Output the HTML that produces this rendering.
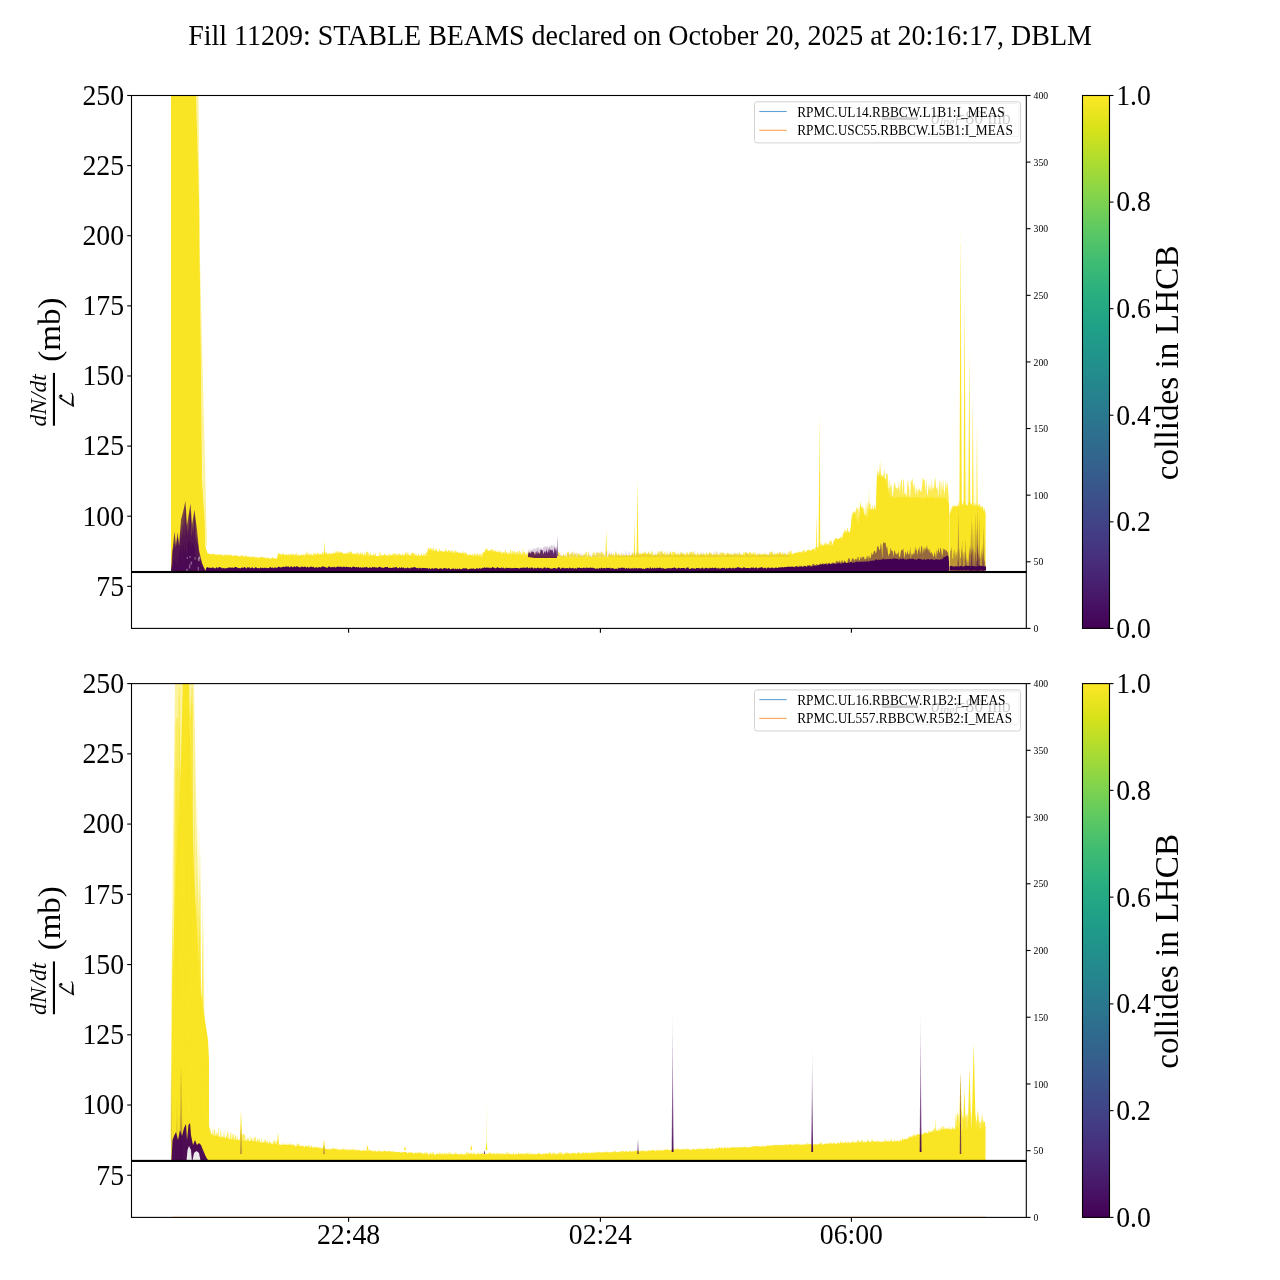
<!DOCTYPE html><html><head><meta charset="utf-8"><title>Fill 11209</title><style>html,body{margin:0;padding:0;background:#fff;width:1280px;height:1280px;overflow:hidden}svg{display:block;will-change:transform}text{font-family:"Liberation Serif",serif;fill:#000}</style></head><body><svg width="1280" height="1280" viewBox="0 0 1280 1280"><defs><linearGradient id="vir" x1="0" y1="1" x2="0" y2="0"><stop offset="0.0000" stop-color="#440154"/><stop offset="0.0625" stop-color="#48186a"/><stop offset="0.1250" stop-color="#472d7b"/><stop offset="0.1875" stop-color="#424086"/><stop offset="0.2500" stop-color="#3b528b"/><stop offset="0.3125" stop-color="#33638d"/><stop offset="0.3750" stop-color="#2c728e"/><stop offset="0.4375" stop-color="#26828e"/><stop offset="0.5000" stop-color="#21918c"/><stop offset="0.5625" stop-color="#1fa088"/><stop offset="0.6250" stop-color="#28ae80"/><stop offset="0.6875" stop-color="#3fbc73"/><stop offset="0.7500" stop-color="#5ec962"/><stop offset="0.8125" stop-color="#84d44b"/><stop offset="0.8750" stop-color="#addc30"/><stop offset="0.9375" stop-color="#d8e219"/><stop offset="1.0000" stop-color="#fde725"/></linearGradient><linearGradient id="pgrad" x1="0" y1="0" x2="0" y2="1"><stop offset="0" stop-color="#440154" stop-opacity="0.05"/><stop offset="0.5" stop-color="#440154" stop-opacity="0.45"/><stop offset="1" stop-color="#440154" stop-opacity="0.95"/></linearGradient></defs><text transform="translate(640.00,45.00) scale(1.000,1.040)" font-size="28.00" text-anchor="middle">Fill 11209: STABLE BEAMS declared on October 20, 2025 at 20:16:17, DBLM</text><polygon points="206.0,571.0 206.0,554.4 206.7,553.7 207.4,554.2 208.1,553.7 208.8,553.7 209.5,555.3 210.2,555.5 210.9,553.3 211.6,554.9 212.3,555.0 213.0,553.0 213.7,554.5 214.4,553.6 215.1,554.6 215.8,554.2 216.5,555.5 217.2,554.3 217.9,553.7 218.6,554.7 219.3,554.2 220.0,554.4 220.7,556.0 221.4,554.3 222.1,554.8 222.8,555.6 223.5,556.3 224.2,554.2 224.9,555.3 225.6,554.7 226.3,554.3 227.0,554.8 227.7,554.3 228.4,555.7 229.1,554.7 229.8,555.7 230.5,554.5 231.2,554.7 231.9,556.7 232.6,556.7 233.3,556.5 234.0,554.6 234.7,556.0 235.4,555.6 236.1,556.5 236.8,556.0 237.5,556.4 238.2,556.5 238.9,556.0 239.6,556.0 240.3,555.3 241.0,555.9 241.7,555.3 242.4,555.5 243.1,555.2 243.8,556.1 244.5,557.4 245.2,555.7 245.9,555.5 246.6,555.7 247.3,556.6 248.0,556.2 248.7,557.5 249.4,556.0 250.1,556.7 250.8,557.5 251.5,558.1 252.2,556.2 252.9,555.9 253.6,558.1 254.3,556.5 255.0,557.4 255.7,558.1 256.4,557.8 257.1,556.7 257.8,556.5 258.5,558.5 259.2,557.2 259.9,558.6 260.6,557.1 261.3,558.0 262.0,556.8 262.7,556.6 263.4,557.8 264.1,556.6 264.8,558.4 265.5,559.0 266.2,557.7 266.9,559.2 267.6,558.8 268.3,558.4 269.0,557.9 269.7,559.1 270.4,559.4 271.1,557.4 271.8,558.8 272.5,557.3 273.2,557.5 273.9,558.8 274.6,558.7 275.3,558.6 276.0,558.3 276.7,558.5 277.4,556.7 278.1,553.7 278.8,552.7 279.5,554.1 280.2,554.3 280.9,553.4 281.6,555.0 282.3,554.8 283.0,552.5 283.7,554.1 284.4,554.0 285.1,556.0 285.8,554.5 286.5,553.9 287.2,556.1 287.9,553.8 288.6,553.7 289.3,556.1 290.0,553.8 290.7,554.4 291.4,553.5 292.1,555.0 292.8,553.4 293.5,553.3 294.2,556.5 294.9,556.4 295.6,553.6 296.3,552.2 297.0,555.6 297.7,554.6 298.4,554.0 299.1,555.4 299.8,555.2 300.5,555.4 301.2,555.1 301.9,553.9 302.6,555.4 303.3,554.9 304.0,553.0 304.7,556.6 305.4,553.9 306.1,553.1 306.8,555.1 307.5,555.5 308.2,552.7 308.9,555.3 309.6,555.5 310.3,554.3 311.0,553.1 311.7,555.8 312.4,554.8 313.1,554.7 313.8,552.4 314.5,554.1 315.2,552.2 315.9,555.3 316.6,554.5 317.3,553.1 318.0,552.0 318.7,553.9 319.4,554.8 320.1,555.2 320.8,553.5 321.5,554.9 322.2,552.2 322.9,552.1 323.6,554.8 324.3,554.3 325.0,552.1 325.7,552.8 326.4,552.1 327.1,553.9 327.8,554.7 328.5,554.1 329.2,552.1 329.9,554.1 330.6,553.8 331.3,553.4 332.0,553.4 332.7,553.4 333.4,551.5 334.1,554.3 334.8,554.8 335.5,551.3 336.2,551.5 336.9,551.1 337.6,553.1 338.3,551.2 339.0,551.3 339.7,553.7 340.4,551.9 341.1,551.6 341.8,552.2 342.5,552.8 343.2,553.7 343.9,553.5 344.6,554.0 345.3,554.6 346.0,552.7 346.7,553.9 347.4,551.8 348.1,554.9 348.8,551.5 349.5,552.4 350.2,551.4 350.9,551.6 351.6,551.6 352.3,553.0 353.0,555.4 353.7,552.3 354.4,554.8 355.1,554.3 355.8,552.7 356.5,553.3 357.2,553.9 357.9,551.5 358.6,553.0 359.3,554.3 360.0,554.8 360.7,551.9 361.4,553.8 362.1,552.3 362.8,554.4 363.5,555.2 364.2,553.6 364.9,552.2 365.6,555.4 366.3,552.3 367.0,551.7 367.7,552.3 368.4,552.2 369.1,556.4 369.8,553.3 370.5,552.1 371.2,556.3 371.9,555.2 372.6,555.2 373.3,553.9 374.0,554.5 374.7,554.2 375.4,552.6 376.1,556.8 376.8,556.5 377.5,556.2 378.2,556.2 378.9,556.6 379.6,551.6 380.3,552.3 381.0,556.5 381.7,554.2 382.4,555.2 383.1,555.2 383.8,555.0 384.5,553.4 385.2,553.8 385.9,555.0 386.6,555.9 387.3,555.1 388.0,556.2 388.7,553.9 389.4,553.1 390.1,554.9 390.8,556.4 391.5,555.9 392.2,554.9 392.9,553.7 393.6,552.7 394.3,554.8 395.0,552.7 395.7,553.6 396.4,554.6 397.1,554.9 397.8,554.2 398.5,553.2 399.2,554.6 399.9,553.2 400.6,554.4 401.3,555.5 402.0,554.0 402.7,553.2 403.4,556.4 404.1,554.6 404.8,554.6 405.5,552.3 406.2,552.1 406.9,554.8 407.6,552.3 408.3,552.8 409.0,555.4 409.7,554.4 410.4,556.0 411.1,552.7 411.8,553.4 412.5,552.4 413.2,552.8 413.9,553.4 414.6,553.1 415.3,553.9 416.0,556.1 416.7,553.8 417.4,556.5 418.1,555.9 418.8,552.9 419.5,556.3 420.2,556.1 420.9,556.1 421.6,552.5 422.3,555.8 423.0,556.6 423.7,552.7 424.4,556.2 425.1,552.7 425.8,553.6 426.5,552.8 427.2,552.2 427.9,549.1 428.6,547.0 429.3,550.6 430.0,547.4 430.7,548.7 431.4,547.8 432.1,550.8 432.8,547.9 433.5,547.1 434.2,551.5 434.9,550.3 435.6,549.2 436.3,548.0 437.0,551.1 437.7,551.6 438.4,551.4 439.1,549.5 439.8,548.9 440.5,550.9 441.2,551.1 441.9,551.0 442.6,551.3 443.3,551.0 444.0,552.8 444.7,550.8 445.4,548.5 446.1,551.3 446.8,549.8 447.5,552.6 448.2,550.2 448.9,550.0 449.6,550.4 450.3,551.2 451.0,551.4 451.7,550.8 452.4,549.8 453.1,553.0 453.8,553.3 454.5,550.6 455.2,550.0 455.9,551.7 456.6,552.1 457.3,551.1 458.0,553.2 458.7,552.9 459.4,553.2 460.1,551.9 460.8,553.0 461.5,553.5 462.2,551.9 462.9,550.9 463.6,553.7 464.3,552.2 465.0,553.5 465.7,551.8 466.4,553.0 467.1,554.6 467.8,555.0 468.5,556.0 469.2,554.1 469.9,554.7 470.6,555.8 471.3,555.1 472.0,555.4 472.7,553.2 473.4,556.4 474.1,552.2 474.8,554.9 475.5,554.3 476.2,555.1 476.9,553.3 477.6,553.4 478.3,554.8 479.0,555.3 479.7,554.1 480.4,553.5 481.1,555.9 481.8,554.3 482.5,553.2 483.2,552.3 483.9,552.1 484.6,551.8 485.3,549.4 486.0,549.5 486.7,548.3 487.4,548.7 488.1,550.7 488.8,551.0 489.5,550.9 490.2,551.3 490.9,549.5 491.6,549.0 492.3,548.9 493.0,551.5 493.7,549.1 494.4,551.5 495.1,551.1 495.8,549.9 496.5,552.9 497.2,553.0 497.9,549.6 498.6,552.3 499.3,552.1 500.0,551.0 500.7,550.6 501.4,554.1 502.1,552.5 502.8,552.0 503.5,551.8 504.2,553.3 504.9,551.4 505.6,549.4 506.3,552.5 507.0,551.8 507.7,554.1 508.4,553.3 509.1,551.2 509.8,554.4 510.5,550.1 511.2,550.0 511.9,554.6 512.6,549.9 513.3,553.2 514.0,551.0 514.7,551.1 515.4,553.8 516.1,551.7 516.8,551.9 517.5,551.0 518.2,554.2 518.9,551.4 519.6,550.2 520.3,552.0 521.0,552.8 521.7,555.4 522.4,553.1 523.1,554.0 523.8,551.8 524.5,552.1 525.2,552.8 525.9,555.2 526.6,552.4 527.3,552.5 528.0,555.3 528.7,550.9 529.4,552.4 530.1,555.8 530.8,550.7 531.5,555.7 532.2,554.6 532.9,552.1 533.6,552.9 534.3,553.2 535.0,552.7 535.7,553.9 536.4,554.9 537.1,555.8 537.8,556.5 538.5,552.3 539.2,552.1 539.9,553.5 540.6,552.3 541.3,554.8 542.0,555.4 542.7,554.7 543.4,551.5 544.1,557.0 544.8,554.0 545.5,555.7 546.2,552.3 546.9,555.1 547.6,555.2 548.3,554.8 549.0,553.9 549.7,552.4 550.4,555.2 551.1,551.9 551.8,556.9 552.5,555.9 553.2,557.1 553.9,557.1 554.6,552.5 555.3,552.9 556.0,556.7 556.7,556.7 557.4,555.1 558.1,552.8 558.8,552.3 559.5,552.8 560.2,553.9 560.9,557.0 561.6,555.2 562.3,556.6 563.0,554.3 563.7,554.0 564.4,556.6 565.1,556.2 565.8,552.5 566.5,557.8 567.2,552.4 567.9,551.8 568.6,551.4 569.3,555.3 570.0,554.1 570.7,553.9 571.4,553.6 572.1,551.2 572.8,553.2 573.5,555.9 574.2,552.0 574.9,554.6 575.6,553.8 576.3,552.9 577.0,558.0 577.7,552.6 578.4,553.4 579.1,554.6 579.8,554.3 580.5,554.8 581.2,556.6 581.9,554.3 582.6,557.7 583.3,554.5 584.0,553.5 584.7,554.9 585.4,554.0 586.1,551.3 586.8,551.8 587.5,557.1 588.2,552.5 588.9,553.6 589.6,557.6 590.3,555.5 591.0,556.4 591.7,557.5 592.4,554.2 593.1,551.5 593.8,555.7 594.5,551.9 595.2,553.1 595.9,557.1 596.6,552.0 597.3,553.8 598.0,551.5 598.7,553.0 599.4,552.8 600.1,555.6 600.8,552.4 601.5,551.5 602.2,552.0 602.9,554.9 603.6,552.7 604.3,554.6 605.0,557.2 605.7,557.7 606.4,557.4 607.1,556.5 607.8,556.8 608.5,554.4 609.2,553.0 609.9,554.0 610.6,554.8 611.3,553.2 612.0,555.5 612.7,554.4 613.4,552.4 614.1,554.7 614.8,556.2 615.5,551.4 616.2,552.5 616.9,554.8 617.6,554.7 618.3,553.7 619.0,553.2 619.7,555.6 620.4,556.9 621.1,555.6 621.8,551.9 622.5,555.9 623.2,553.9 623.9,555.5 624.6,555.3 625.3,555.5 626.0,554.1 626.7,555.5 627.4,556.3 628.1,555.7 628.8,555.3 629.5,553.3 630.2,555.9 630.9,556.0 631.6,553.5 632.3,553.7 633.0,551.9 633.7,555.7 634.4,553.6 635.1,553.6 635.8,555.7 636.5,550.3 637.2,554.5 637.9,555.1 638.6,553.0 639.3,554.6 640.0,552.1 640.7,553.6 641.4,554.8 642.1,555.2 642.8,551.5 643.5,554.0 644.2,551.2 644.9,553.0 645.6,550.5 646.3,553.9 647.0,554.2 647.7,554.1 648.4,551.2 649.1,552.2 649.8,553.7 650.5,555.1 651.2,551.9 651.9,550.4 652.6,552.4 653.3,555.6 654.0,555.5 654.7,555.2 655.4,554.8 656.1,555.5 656.8,555.4 657.5,552.2 658.2,550.8 658.9,554.6 659.6,550.5 660.3,553.2 661.0,551.4 661.7,550.8 662.4,550.7 663.1,555.6 663.8,554.2 664.5,552.5 665.2,550.7 665.9,555.4 666.6,554.3 667.3,551.3 668.0,555.2 668.7,553.8 669.4,554.1 670.1,552.2 670.8,550.9 671.5,555.0 672.2,551.9 672.9,552.0 673.6,551.4 674.3,553.0 675.0,551.0 675.7,554.0 676.4,553.7 677.1,554.7 677.8,551.8 678.5,553.4 679.2,554.6 679.9,555.1 680.6,552.2 681.3,552.8 682.0,552.2 682.7,554.0 683.4,553.4 684.1,555.2 684.8,552.3 685.5,555.9 686.2,553.6 686.9,552.0 687.6,552.5 688.3,555.5 689.0,554.8 689.7,551.6 690.4,552.7 691.1,551.5 691.8,551.5 692.5,553.7 693.2,551.4 693.9,552.3 694.6,554.3 695.3,554.1 696.0,555.6 696.7,554.0 697.4,551.2 698.1,555.5 698.8,553.1 699.5,555.4 700.2,555.6 700.9,552.8 701.6,554.8 702.3,555.8 703.0,555.2 703.7,552.8 704.4,553.1 705.1,555.9 705.8,554.9 706.5,551.3 707.2,554.9 707.9,553.3 708.6,554.0 709.3,552.2 710.0,553.1 710.7,552.2 711.4,553.4 712.1,555.1 712.8,555.1 713.5,555.6 714.2,552.1 714.9,555.5 715.6,555.9 716.3,551.4 717.0,555.1 717.7,551.8 718.4,555.6 719.1,553.8 719.8,555.0 720.5,552.1 721.2,553.1 721.9,553.0 722.6,552.5 723.3,552.0 724.0,554.4 724.7,553.2 725.4,554.0 726.1,555.5 726.8,552.2 727.5,553.3 728.2,552.3 728.9,555.1 729.6,553.6 730.3,553.9 731.0,552.7 731.7,555.7 732.4,554.5 733.1,553.8 733.8,555.7 734.5,553.6 735.2,552.8 735.9,554.1 736.6,553.2 737.3,553.3 738.0,555.1 738.7,554.5 739.4,551.7 740.1,554.5 740.8,554.1 741.5,555.6 742.2,555.1 742.9,555.3 743.6,552.0 744.3,552.9 745.0,552.3 745.7,551.8 746.4,553.4 747.1,552.1 747.8,553.7 748.5,554.2 749.2,552.0 749.9,552.2 750.6,552.1 751.3,554.0 752.0,552.8 752.7,554.3 753.4,551.9 754.1,552.2 754.8,554.8 755.5,552.2 756.2,555.2 756.9,555.6 757.6,553.1 758.3,554.8 759.0,553.9 759.7,553.4 760.4,555.8 761.1,553.0 761.8,554.8 762.5,554.2 763.2,554.5 763.9,552.9 764.6,552.8 765.3,554.7 766.0,555.5 766.7,554.6 767.4,554.1 768.1,555.5 768.8,555.2 769.5,552.5 770.2,552.8 770.9,551.6 771.6,551.5 772.3,551.9 773.0,554.1 773.7,555.1 774.4,554.4 775.1,553.7 775.8,553.4 776.5,553.3 777.2,554.1 777.9,551.8 778.6,554.4 779.3,553.5 780.0,551.5 780.7,551.9 781.4,554.2 782.1,554.5 782.8,551.8 783.5,555.6 784.2,555.0 784.9,553.0 785.6,553.0 786.3,554.8 787.0,555.3 787.7,554.5 788.4,551.7 789.1,553.2 789.8,550.6 790.5,551.5 791.2,550.5 791.9,555.0 792.6,554.1 793.3,554.8 794.0,552.8 794.7,553.1 795.4,554.2 796.1,552.0 796.8,553.8 797.5,552.8 798.2,552.9 798.9,550.8 799.6,552.1 800.3,552.5 801.0,553.2 801.7,551.8 802.4,551.0 803.1,550.7 803.8,549.8 804.5,550.0 805.2,551.9 805.9,552.2 806.6,549.9 807.3,549.7 808.0,550.6 808.7,549.3 809.4,550.2 810.1,551.1 810.8,551.4 811.5,551.8 812.2,549.5 812.9,548.5 813.6,548.4 814.3,549.7 815.0,548.6 815.7,546.9 816.4,546.9 817.1,547.3 817.8,547.6 818.5,546.4 819.2,547.2 819.9,546.4 820.6,544.1 821.3,542.6 822.0,544.4 822.7,544.9 823.4,545.0 824.1,544.4 824.8,542.5 825.5,544.2 826.2,541.3 826.9,545.6 827.6,544.6 828.3,543.2 829.0,543.8 829.7,540.9 830.4,540.8 831.1,539.9 831.8,541.9 832.5,545.8 833.2,541.6 833.9,540.7 834.6,539.8 835.3,539.5 836.0,538.5 836.7,537.9 837.4,539.7 838.1,538.2 838.8,538.9 839.5,538.4 840.2,536.9 840.9,536.5 841.6,537.5 842.3,538.1 843.0,532.4 843.7,533.2 844.4,531.1 845.1,528.9 845.8,531.6 846.5,531.9 847.2,528.3 847.9,528.3 848.6,531.9 849.3,531.6 850.0,532.3 850.7,527.6 851.4,521.1 852.1,511.0 852.8,515.1 853.5,512.5 854.2,511.6 854.9,513.9 855.6,511.0 856.3,508.5 857.0,506.8 857.7,510.3 858.4,506.3 859.1,519.0 859.8,507.8 860.5,500.3 861.2,507.7 861.9,507.3 862.6,506.0 863.3,509.6 864.0,506.7 864.7,515.6 865.4,513.7 866.1,500.8 866.8,515.7 867.5,501.5 868.2,511.2 868.9,500.1 869.6,503.9 870.3,504.5 871.0,509.6 871.7,510.5 872.4,504.5 873.1,509.6 873.8,509.6 874.5,505.2 875.2,505.3 875.9,510.7 876.6,481.5 877.3,469.9 878.0,471.5 878.7,475.1 879.4,471.0 880.1,461.1 880.8,472.5 881.5,475.2 882.2,475.5 882.9,476.3 883.6,473.9 884.3,468.7 885.0,478.3 885.7,479.6 886.4,473.0 887.1,473.4 887.8,474.8 888.5,488.2 889.2,488.5 889.9,478.8 890.6,488.3 891.3,483.9 892.0,491.7 892.7,497.6 893.4,491.1 894.1,483.0 894.8,482.3 895.5,486.6 896.2,488.7 896.9,487.2 897.6,489.2 898.3,487.3 899.0,481.2 899.7,494.1 900.4,486.1 901.1,479.2 901.8,480.9 902.5,494.6 903.2,478.5 903.9,481.0 904.6,494.8 905.3,492.8 906.0,494.1 906.7,497.2 907.4,478.1 908.1,489.9 908.8,480.3 909.5,496.0 910.2,498.1 910.9,480.3 911.6,481.9 912.3,477.8 913.0,484.1 913.7,487.5 914.4,482.5 915.1,496.5 915.8,487.2 916.5,489.2 917.2,495.4 917.9,485.9 918.6,491.7 919.3,487.9 920.0,490.7 920.7,491.8 921.4,491.0 922.1,485.9 922.8,477.8 923.5,478.8 924.2,480.3 924.9,480.9 925.6,492.5 926.3,477.9 927.0,492.9 927.7,496.0 928.4,488.0 929.1,483.0 929.8,491.4 930.5,484.9 931.2,492.7 931.9,478.0 932.6,489.0 933.3,488.5 934.0,487.3 934.7,479.9 935.4,477.5 936.1,487.4 936.8,489.3 937.5,485.4 938.2,497.3 938.9,489.6 939.6,480.4 940.3,482.0 941.0,497.6 941.7,480.3 942.4,490.5 943.1,477.5 943.8,490.9 944.5,494.3 945.2,486.9 945.9,479.6 946.6,489.5 947.3,481.6 948.0,488.3 948.7,497.6 948.7,571.0" fill="#fae525" fill-opacity="0.80"/><polygon points="206.0,571.0 206.0,553.8 206.8,553.6 207.6,553.6 208.4,553.4 209.2,553.9 210.0,553.7 210.0,555.4 210.8,554.6 211.6,553.7 212.4,554.4 213.2,553.9 214.0,555.5 214.8,554.9 215.6,555.4 216.4,554.8 217.2,554.8 218.0,556.0 218.8,555.7 219.6,555.6 220.4,554.4 221.2,554.7 222.0,556.0 222.8,554.8 223.6,556.1 224.4,555.2 225.2,556.3 226.0,556.6 226.8,554.9 227.6,556.3 228.4,556.3 229.2,554.8 230.0,555.1 230.8,556.3 231.6,555.0 232.4,555.9 233.2,555.7 234.0,556.7 234.8,555.3 235.6,555.8 236.4,555.3 237.2,555.5 238.0,556.8 238.8,556.7 239.6,557.1 240.0,557.2 240.4,557.4 241.2,557.0 242.0,556.4 242.8,557.7 243.6,556.4 244.4,557.1 245.2,557.2 246.0,556.2 246.8,557.0 247.6,557.3 248.4,557.1 249.2,556.7 250.0,558.0 250.8,556.2 251.6,558.2 252.4,556.8 253.2,556.6 254.0,558.3 254.8,556.8 255.6,557.7 256.4,557.4 257.2,558.6 258.0,558.5 258.8,558.3 259.6,556.8 260.0,558.4 260.4,557.3 261.2,557.0 262.0,557.0 262.8,558.3 263.6,558.3 264.4,558.0 265.2,557.6 266.0,559.0 266.8,557.8 267.6,557.7 268.4,557.6 269.2,559.4 270.0,557.6 270.8,559.4 271.6,558.9 272.4,558.4 273.2,557.9 274.0,559.1 274.8,558.0 275.6,558.8 276.4,559.3 277.0,559.4 277.2,558.8 278.0,555.4 278.0,555.3 278.8,554.3 279.6,553.7 280.4,555.4 281.2,555.7 282.0,553.9 282.8,554.8 283.6,555.1 284.4,555.5 285.2,554.9 286.0,554.5 286.8,555.2 287.6,555.4 288.4,556.2 289.2,554.5 290.0,556.3 290.8,555.4 291.6,554.8 292.4,556.3 293.2,555.1 294.0,554.7 294.8,555.4 295.6,555.1 296.4,556.6 297.2,556.0 298.0,556.6 298.8,555.2 299.6,556.4 300.0,556.1 300.4,555.0 301.2,555.2 302.0,554.9 302.8,555.9 303.6,555.8 304.4,555.3 305.2,555.7 306.0,556.0 306.8,555.8 307.6,556.2 308.4,555.7 309.2,554.4 310.0,554.5 310.8,555.1 311.6,555.3 312.4,555.5 313.2,556.0 314.0,555.6 314.8,554.5 315.6,554.3 316.4,555.3 317.2,554.4 318.0,554.3 318.8,554.4 319.6,554.4 320.4,554.2 321.2,554.9 322.0,554.2 322.8,555.0 323.6,554.6 324.4,553.9 325.2,554.0 326.0,554.8 326.8,553.4 327.6,554.0 328.4,554.1 329.2,555.2 330.0,554.0 330.8,554.6 331.6,553.7 332.4,554.0 333.2,553.3 334.0,553.6 334.8,553.2 335.6,554.1 336.4,553.4 337.2,553.2 338.0,553.0 338.8,553.9 339.6,552.8 340.0,552.8 340.4,553.2 341.2,552.6 342.0,552.7 342.8,553.7 343.6,553.7 344.4,554.5 345.2,553.2 346.0,553.1 346.8,554.1 347.6,553.7 348.4,553.7 349.2,553.7 350.0,554.9 350.8,553.7 351.6,554.2 352.4,554.1 353.2,554.6 354.0,554.3 354.8,554.1 355.6,554.4 356.4,554.3 357.2,555.7 358.0,555.5 358.8,555.0 359.6,554.7 360.0,555.6 360.4,554.6 361.2,554.8 362.0,556.0 362.8,555.2 363.6,555.7 364.4,556.1 365.2,556.0 366.0,555.7 366.8,556.0 367.6,556.0 368.4,556.3 369.2,555.5 370.0,555.7 370.8,555.3 371.6,555.4 372.4,556.1 373.2,554.9 374.0,556.7 374.8,555.9 375.6,556.2 376.4,556.0 377.2,556.6 378.0,555.2 378.8,556.2 379.6,556.9 380.0,555.8 380.4,556.8 381.2,555.9 382.0,556.3 382.8,555.8 383.6,555.0 384.4,555.3 385.2,556.1 386.0,555.3 386.8,555.6 387.6,556.2 388.4,556.6 389.2,555.7 390.0,555.7 390.8,555.0 391.6,554.9 392.4,555.6 393.2,556.1 394.0,555.0 394.8,556.8 395.6,556.6 396.4,555.7 397.2,555.6 398.0,556.5 398.8,555.5 399.6,555.0 400.4,556.0 401.2,555.9 402.0,556.3 402.8,556.1 403.6,554.8 404.4,555.9 405.2,554.8 406.0,554.8 406.8,555.5 407.6,556.1 408.4,554.7 409.2,555.6 410.0,555.8 410.8,556.0 411.6,554.6 412.4,555.6 413.2,556.0 414.0,555.6 414.8,556.3 415.6,555.3 416.4,555.7 417.2,555.9 418.0,555.0 418.8,554.9 419.6,556.5 420.0,555.4 420.4,556.0 421.2,554.7 422.0,555.1 422.8,556.2 423.6,556.2 424.4,556.5 425.2,554.9 426.0,556.3 426.8,555.7 427.5,556.1 427.6,554.4 428.0,549.3 428.4,549.1 429.2,550.5 430.0,549.4 430.8,550.5 431.6,550.2 432.4,550.7 433.2,551.0 434.0,550.7 434.8,551.0 435.6,551.4 436.4,550.8 437.2,551.2 438.0,552.5 438.8,552.2 439.6,552.0 440.0,551.2 440.4,551.2 441.2,552.0 442.0,553.1 442.8,551.6 443.6,552.3 444.4,552.1 445.2,551.8 446.0,552.0 446.8,552.4 447.6,551.6 448.4,552.6 449.2,552.7 450.0,551.8 450.8,553.1 451.6,553.0 452.4,552.0 453.2,553.5 454.0,552.0 454.8,552.4 455.6,552.9 456.4,553.2 457.2,552.3 458.0,552.1 458.8,553.7 459.6,553.0 460.0,552.9 460.4,553.1 461.2,553.6 462.0,554.2 462.8,553.5 463.6,553.3 464.4,555.0 465.2,554.8 466.0,553.9 466.8,554.1 467.6,554.6 468.4,556.0 469.2,554.9 470.0,554.5 470.8,554.7 471.6,555.5 472.0,556.9 472.4,555.4 473.2,556.7 474.0,555.9 474.8,555.4 475.6,555.9 476.4,557.1 477.2,556.9 478.0,555.7 478.8,557.3 479.6,556.5 480.4,557.0 481.2,557.6 482.0,556.7 482.5,557.9 482.8,556.4 483.5,552.7 483.6,553.3 484.4,553.0 485.2,551.6 486.0,550.9 486.8,550.3 487.6,551.4 488.0,550.6 488.4,551.0 489.2,550.5 490.0,550.9 490.8,550.2 491.6,551.5 492.4,552.3 493.2,551.2 494.0,552.4 494.8,551.7 495.6,552.1 496.4,551.4 497.2,552.3 498.0,552.3 498.8,553.2 499.6,552.8 500.0,553.5 500.4,552.5 501.2,553.1 502.0,553.9 502.8,553.8 503.6,553.6 504.4,553.0 505.2,554.2 506.0,553.2 506.8,553.4 507.6,554.6 508.4,553.5 509.2,554.7 510.0,554.8 510.8,553.9 511.6,554.7 512.4,553.5 513.2,554.4 514.0,554.8 514.8,553.9 515.6,555.5 516.4,554.2 517.2,555.6 518.0,555.5 518.8,554.0 519.6,554.6 520.0,555.6 520.4,555.8 521.2,554.1 522.0,554.8 522.8,554.5 523.6,555.9 524.4,555.0 525.2,555.6 526.0,555.9 526.8,555.7 527.6,555.2 528.4,555.8 529.2,555.7 530.0,556.3 530.8,554.9 531.6,555.3 532.4,555.1 533.2,555.8 534.0,555.1 534.8,555.8 535.6,555.7 536.4,555.7 537.2,555.4 538.0,556.2 538.8,556.8 539.6,557.0 540.4,556.7 541.2,557.1 542.0,555.4 542.8,556.3 543.6,555.8 544.4,557.3 545.2,556.4 546.0,555.6 546.8,556.2 547.6,556.6 548.4,556.6 549.2,557.4 550.0,557.3 550.8,557.3 551.6,557.0 552.4,557.0 553.2,556.0 554.0,557.5 554.8,557.4 555.6,557.4 556.4,557.6 557.0,557.4 557.2,557.5 558.0,557.0 558.8,557.9 559.6,556.2 560.4,557.3 561.2,556.1 562.0,556.6 562.8,556.7 563.6,557.1 564.4,556.1 565.2,557.8 566.0,556.7 566.8,557.4 567.6,556.7 568.4,556.5 569.2,557.7 570.0,557.6 570.8,558.0 571.6,557.5 572.4,557.8 573.2,557.2 574.0,556.1 574.8,557.3 575.6,557.4 576.4,557.1 577.2,557.4 578.0,556.5 578.8,556.6 579.6,557.7 580.4,557.5 581.2,556.7 582.0,556.1 582.8,556.7 583.6,557.1 584.4,556.0 585.2,558.0 586.0,557.9 586.8,556.4 587.6,557.2 588.4,557.9 589.2,556.9 590.0,556.0 590.8,557.0 591.6,557.3 592.4,557.8 593.2,557.9 594.0,556.2 594.8,557.0 595.6,556.1 596.4,557.9 597.2,557.5 598.0,557.9 598.8,557.2 599.6,557.9 600.4,557.5 601.2,557.2 602.0,557.4 602.8,557.9 603.6,557.9 604.4,556.1 605.2,557.6 606.0,557.0 606.0,557.2 606.8,556.9 607.6,557.7 608.4,557.2 609.2,557.5 610.0,556.6 610.8,555.8 611.6,556.4 612.4,555.8 613.2,557.0 614.0,557.4 614.8,556.3 615.6,556.3 616.4,556.1 617.2,556.4 618.0,555.9 618.8,555.6 619.6,555.2 620.4,556.3 621.2,556.0 622.0,555.2 622.8,556.3 623.6,556.5 624.4,556.0 625.2,556.4 626.0,555.0 626.8,554.8 627.6,555.8 628.4,556.1 629.2,556.1 630.0,555.7 630.8,556.0 631.6,555.3 632.4,554.9 633.2,555.5 634.0,555.8 634.8,554.5 635.6,555.7 636.4,555.4 637.2,555.1 638.0,554.9 638.8,555.4 639.6,554.7 640.0,554.9 640.4,554.0 641.2,554.4 642.0,553.7 642.8,554.2 643.6,554.0 644.4,554.4 645.2,554.7 646.0,553.9 646.8,554.3 647.6,553.7 648.4,554.1 649.2,554.2 650.0,555.1 650.8,554.0 651.6,554.9 652.4,555.4 653.2,555.5 654.0,555.3 654.8,555.2 655.6,554.3 656.4,555.1 657.2,555.6 658.0,554.2 658.8,554.6 659.6,555.7 660.4,555.7 661.2,555.5 662.0,555.1 662.8,554.1 663.6,553.9 664.4,554.6 665.2,555.4 666.0,555.0 666.8,555.1 667.6,555.2 668.4,555.8 669.2,554.7 670.0,554.2 670.8,554.4 671.6,555.7 672.4,554.8 673.2,555.6 674.0,554.5 674.8,555.0 675.6,554.1 676.4,554.4 677.2,555.7 678.0,555.3 678.8,554.2 679.6,555.1 680.0,555.1 680.4,555.1 681.2,554.5 682.0,554.1 682.8,554.9 683.6,554.1 684.4,554.8 685.2,555.8 686.0,554.4 686.8,555.2 687.6,555.9 688.4,554.0 689.2,555.9 690.0,554.8 690.8,555.0 691.6,554.2 692.4,555.2 693.2,555.6 694.0,555.4 694.8,555.6 695.6,554.9 696.4,555.3 697.2,554.5 698.0,555.5 698.8,555.3 699.6,555.5 700.4,554.0 701.2,554.3 702.0,554.3 702.8,554.8 703.6,555.2 704.4,555.7 705.2,554.3 706.0,555.0 706.8,555.9 707.6,555.7 708.4,555.8 709.2,554.6 710.0,554.2 710.8,555.6 711.6,554.4 712.4,555.4 713.2,554.6 714.0,554.3 714.8,554.8 715.6,554.4 716.4,555.2 717.2,556.0 718.0,555.0 718.8,554.8 719.6,555.6 720.4,555.2 721.2,555.4 722.0,555.9 722.8,555.4 723.6,555.2 724.4,555.0 725.2,554.6 726.0,555.2 726.8,554.0 727.6,554.4 728.4,554.2 729.2,554.6 730.0,554.7 730.8,554.9 731.6,554.4 732.4,555.3 733.2,554.8 734.0,554.6 734.8,555.0 735.6,555.4 736.4,555.8 737.2,555.8 738.0,555.3 738.8,554.8 739.6,554.5 740.4,554.6 741.2,555.4 742.0,554.1 742.8,555.5 743.6,554.6 744.4,555.9 745.2,554.5 746.0,554.7 746.8,554.1 747.6,554.2 748.4,554.6 749.2,554.3 750.0,554.5 750.8,554.8 751.6,555.6 752.4,555.0 753.2,554.2 754.0,555.5 754.8,554.1 755.6,554.9 756.4,555.2 757.2,556.0 758.0,555.2 758.8,555.6 759.6,554.7 760.0,554.2 760.4,554.2 761.2,554.8 762.0,555.2 762.8,555.7 763.6,554.6 764.4,554.8 765.2,554.5 766.0,555.2 766.8,554.1 767.6,555.4 768.4,555.2 769.2,555.3 770.0,554.6 770.8,554.0 771.6,555.5 772.4,554.5 773.2,554.2 774.0,555.3 774.8,555.6 775.6,554.6 776.4,554.1 777.2,554.0 778.0,554.2 778.8,554.9 779.6,554.8 780.4,554.6 781.2,553.8 782.0,555.0 782.8,555.1 783.6,554.4 784.4,553.7 785.2,555.2 786.0,555.5 786.8,555.3 787.6,554.4 788.4,554.3 789.2,555.1 790.0,555.1 790.0,554.3 790.8,554.0 791.6,553.8 792.4,553.6 793.2,554.7 794.0,553.7 794.8,552.9 795.6,552.5 796.4,553.6 797.2,552.4 798.0,552.6 798.8,551.9 799.6,553.1 800.0,552.1 800.4,551.8 801.2,552.4 802.0,553.0 802.8,552.7 803.6,552.7 804.4,552.7 805.2,552.5 806.0,551.4 806.8,552.3 807.6,550.9 808.4,550.8 809.2,550.6 810.0,550.5 810.8,550.5 811.6,550.0 812.4,549.8 813.2,550.4 814.0,549.6 814.0,551.3 814.8,551.3 815.6,551.4 816.0,551.1 816.4,550.3 817.2,549.2 818.0,547.9 818.8,546.9 819.6,547.3 820.0,546.2 820.4,545.9 821.2,546.2 822.0,546.6 822.8,545.6 823.6,546.0 824.4,545.3 825.2,545.6 826.0,544.6 826.8,544.6 827.6,546.3 828.4,544.8 829.2,544.8 830.0,545.6 830.8,545.9 831.6,545.1 832.4,545.3 833.0,544.5 833.2,543.6 834.0,542.2 834.8,540.0 835.0,539.0 835.6,538.6 836.4,538.4 837.2,538.8 838.0,539.4 838.8,539.3 839.6,538.3 840.4,539.0 841.2,539.9 842.0,539.2 842.0,539.5 842.8,535.9 843.6,534.3 844.0,532.5 844.4,532.9 845.2,532.2 846.0,531.4 846.8,532.4 847.6,532.8 848.4,531.9 849.2,533.7 850.0,533.3 850.0,532.4 850.8,527.6 851.6,519.7 852.0,517.3 852.4,516.8 853.2,513.9 854.0,511.1 854.0,511.2 854.8,513.2 855.6,516.4 856.4,518.3 857.2,519.1 858.0,522.4 858.6,524.1 858.8,522.5 859.6,512.6 860.2,504.1 860.4,505.1 861.2,507.3 862.0,510.0 862.8,511.2 863.6,512.2 864.4,514.8 865.2,516.3 866.0,517.5 866.3,518.7 866.8,517.1 867.6,515.6 868.4,513.0 869.0,509.5 869.2,510.2 870.0,509.3 870.8,509.3 871.6,509.2 872.4,510.2 873.2,509.0 874.0,509.5 874.8,509.2 875.6,510.7 876.0,509.4 876.4,498.5 877.2,474.1 877.2,474.0 878.0,475.9 878.8,475.8 879.6,476.4 880.4,476.3 881.2,477.0 882.0,476.5 882.8,477.9 883.6,478.1 884.4,477.9 885.0,478.9 885.2,479.0 886.0,481.0 886.8,484.1 887.6,488.5 888.4,491.9 889.2,493.3 890.0,496.1 890.0,496.8 890.8,497.7 891.6,497.6 892.4,496.2 893.2,496.2 894.0,498.0 894.8,497.7 895.6,497.2 896.4,497.6 897.2,496.6 898.0,497.4 898.8,496.6 899.6,497.9 900.4,497.1 901.2,496.2 902.0,496.8 902.8,498.0 903.6,498.0 904.4,497.0 905.2,497.5 906.0,497.5 906.8,497.3 907.6,497.1 908.4,496.4 909.2,497.9 910.0,497.2 910.8,497.8 911.6,497.3 912.4,496.9 913.2,498.1 914.0,497.5 914.8,497.0 915.6,498.4 916.4,496.9 917.2,497.6 918.0,497.5 918.8,497.3 919.6,496.9 920.4,498.4 921.2,497.5 922.0,498.5 922.8,497.8 923.6,497.9 924.4,498.6 925.2,498.0 926.0,497.7 926.8,497.3 927.6,496.8 928.4,497.9 929.2,497.6 930.0,497.3 930.8,496.8 931.6,496.8 932.4,496.8 933.2,498.2 934.0,498.4 934.8,496.9 935.6,498.6 936.4,497.9 937.2,497.4 938.0,497.8 938.8,498.1 939.6,497.0 940.4,498.3 941.2,497.8 942.0,497.3 942.8,498.7 943.6,498.2 944.4,498.0 945.2,497.8 946.0,498.6 946.8,498.1 947.0,498.9 947.6,500.5 948.4,502.1 949.2,504.7 949.2,503.1 949.2,571.0" fill="#fae525"/><polygon points="171,571.0 171,95.5 196,95.5 199,200 200.6,330 202.2,480 204.7,522 205.3,546 208,555 208,571.0" fill="#fae525"/><polygon points="196,95.5 198.5,95.5 200.5,330 202.7,480 205.5,546 207,546" fill="#fae525" fill-opacity="0.45"/><polygon points="949.6,571.0 949.6,512.4 950.3,513.0 951.0,506.0 951.7,510.6 952.4,505.4 953.1,505.8 953.8,507.6 954.5,504.4 955.2,507.4 955.9,504.7 956.6,507.0 957.3,506.7 958.0,504.5 958.7,501.4 959.4,506.3 960.1,505.7 960.8,502.9 961.5,500.4 962.2,503.2 962.9,504.4 963.6,500.2 964.3,506.3 965.0,501.1 965.7,504.9 966.4,505.7 967.1,505.8 967.8,504.7 968.5,501.3 969.2,505.3 969.9,502.9 970.6,502.5 971.3,504.3 972.0,503.3 972.7,506.3 973.4,506.5 974.1,505.8 974.8,502.6 975.5,504.6 976.2,505.6 976.9,503.9 977.6,505.0 978.3,506.2 979.0,503.1 979.7,504.0 980.4,507.3 981.1,506.1 981.8,507.2 982.5,505.6 983.2,507.4 983.9,510.9 984.6,507.2 985.3,513.3 985.3,571.0" fill="#fae525" fill-opacity="0.80"/><polygon points="949.6,571.0 949.6,515.5 950.4,512.2 951.2,512.0 952.0,508.9 952.8,508.3 953.0,507.5 953.6,505.9 954.4,507.3 955.2,506.3 956.0,506.5 956.8,506.3 957.6,506.1 958.0,506.6 958.4,505.3 959.2,506.7 960.0,506.4 960.8,506.7 961.6,506.2 962.4,505.8 963.2,504.8 964.0,505.7 964.8,506.2 965.6,505.8 966.4,504.3 967.2,506.1 968.0,504.9 968.8,505.3 969.6,504.7 970.0,505.3 970.4,504.7 971.2,505.2 972.0,505.1 972.8,504.8 973.6,505.6 974.4,506.6 975.2,506.9 976.0,505.3 976.8,506.4 977.6,507.1 978.4,505.8 979.2,506.7 980.0,506.5 980.0,506.2 980.8,508.3 981.6,509.0 982.4,508.9 983.2,511.2 984.0,510.8 984.8,513.0 985.5,512.6 985.5,571.0" fill="#fae525"/><polygon points="959.30,540.0 960.60,229.0 961.90,540.0" fill="#fae525" fill-opacity="1.00"/><polygon points="963.40,540.0 964.60,292.6 965.80,540.0" fill="#fae525" fill-opacity="1.00"/><polygon points="968.10,540.0 969.30,351.0 970.50,540.0" fill="#fae525" fill-opacity="1.00"/><polygon points="971.70,540.0 972.80,398.0 973.90,540.0" fill="#fae525" fill-opacity="0.90"/><polygon points="976.00,540.0 977.00,423.8 978.00,540.0" fill="#fae525" fill-opacity="0.80"/><polygon points="966.25,540.0 967.00,440.0 967.75,540.0" fill="#fae525" fill-opacity="0.40"/><polygon points="974.25,540.0 975.00,460.0 975.75,540.0" fill="#fae525" fill-opacity="0.40"/><polygon points="306.00,557.0 307.00,550.6 308.00,557.0" fill="#fae525" fill-opacity="1.00"/><polygon points="323.65,557.0 324.40,541.0 325.15,557.0" fill="#fae525" fill-opacity="1.00"/><polygon points="366.25,557.0 367.00,550.0 367.75,557.0" fill="#fae525" fill-opacity="0.80"/><polygon points="522.25,557.0 523.00,547.5 523.75,557.0" fill="#fae525" fill-opacity="1.00"/><polygon points="605.40,557.0 606.20,529.4 607.00,557.0" fill="#fae525" fill-opacity="1.00"/><polygon points="633.70,557.0 634.40,521.0 635.10,557.0" fill="#fae525" fill-opacity="0.90"/><polygon points="636.60,557.0 637.50,480.0 638.40,557.0" fill="#fae525" fill-opacity="1.00"/><polygon points="815.80,557.0 816.60,515.0 817.40,557.0" fill="#fae525" fill-opacity="0.90"/><polygon points="818.50,557.0 819.40,414.0 820.30,557.0" fill="#fae525" fill-opacity="1.00"/><polygon points="868.00,557.0 869.00,487.0 870.00,557.0" fill="#fae525" fill-opacity="0.90"/><polygon points="206.0,571.5 206.0,567.8 206.8,567.7 207.6,567.1 208.4,567.8 209.2,567.7 210.0,567.6 210.8,568.2 211.6,567.7 212.4,567.6 213.2,567.3 214.0,568.4 214.8,568.0 215.6,568.4 216.4,567.3 217.2,567.5 218.0,568.4 218.8,567.0 219.6,567.1 220.4,567.5 221.2,567.6 222.0,568.3 222.8,568.5 223.6,567.7 224.4,568.4 225.2,568.2 226.0,568.1 226.8,568.5 227.6,567.8 228.4,567.8 229.2,567.2 230.0,567.7 230.8,567.5 231.6,567.8 232.4,567.5 233.2,567.8 234.0,568.1 234.8,567.0 235.6,567.0 236.4,567.2 237.2,567.4 238.0,568.0 238.8,568.2 239.6,568.1 240.4,568.4 241.2,567.4 242.0,567.9 242.8,567.2 243.6,567.9 244.4,567.1 245.2,567.2 246.0,568.5 246.8,568.2 247.6,567.1 248.4,567.8 249.2,567.0 250.0,567.9 250.8,568.4 251.6,567.6 252.4,567.3 253.2,568.1 254.0,568.4 254.8,568.0 255.6,567.1 256.4,567.4 257.2,568.3 258.0,568.1 258.8,568.3 259.6,568.4 260.4,567.3 261.2,568.2 262.0,567.7 262.8,567.8 263.6,568.2 264.4,567.4 265.2,568.3 266.0,567.5 266.8,568.3 267.6,567.9 268.4,568.2 269.2,568.1 270.0,567.0 270.8,567.3 271.6,568.0 272.4,567.2 273.2,568.2 274.0,567.9 274.8,567.2 275.6,567.5 276.4,568.3 277.0,567.0 277.2,568.0 278.0,567.1 278.0,566.3 278.8,567.0 279.6,567.1 280.4,567.4 281.2,567.4 282.0,566.7 282.8,567.2 283.6,566.6 284.4,567.0 285.2,566.9 286.0,566.1 286.8,566.8 287.6,566.7 288.4,566.3 289.2,567.3 290.0,567.4 290.8,566.2 291.6,566.4 292.4,567.2 293.2,567.3 294.0,566.5 294.8,566.2 295.6,567.3 296.4,566.2 297.2,566.3 298.0,566.7 298.8,567.0 299.6,567.5 300.4,567.6 301.2,566.2 302.0,567.3 302.8,566.6 303.6,567.3 304.4,566.5 305.2,566.8 306.0,567.3 306.8,567.4 307.6,566.6 308.4,567.6 309.2,567.4 310.0,566.9 310.8,566.5 311.6,566.8 312.4,567.3 313.2,566.4 314.0,567.4 314.8,567.7 315.6,567.4 316.4,567.1 317.2,567.7 318.0,567.5 318.8,567.2 319.6,566.9 320.4,567.6 321.2,567.3 322.0,566.5 322.8,566.3 323.6,566.8 324.4,566.8 325.2,567.0 326.0,567.6 326.8,567.8 327.6,567.8 328.4,566.5 329.2,566.8 330.0,566.4 330.8,567.8 331.6,566.9 332.4,567.2 333.2,566.8 334.0,567.4 334.8,566.4 335.6,567.8 336.4,567.1 337.2,566.8 338.0,566.6 338.8,566.8 339.6,566.9 340.4,566.7 341.2,566.6 342.0,567.4 342.8,566.9 343.6,566.6 344.4,566.7 345.2,567.3 346.0,566.8 346.8,566.7 347.6,567.1 348.4,567.1 349.2,567.4 350.0,567.1 350.8,567.1 351.6,567.9 352.4,567.1 353.2,566.5 354.0,566.7 354.8,566.9 355.6,567.5 356.4,566.9 357.2,567.2 358.0,567.4 358.8,566.8 359.6,567.9 360.4,567.0 361.2,568.0 362.0,567.2 362.8,567.4 363.6,567.8 364.4,567.1 365.2,567.4 366.0,567.2 366.8,566.7 367.6,567.7 368.4,568.1 369.2,567.7 370.0,567.1 370.8,567.8 371.6,567.9 372.4,566.8 373.2,567.2 374.0,567.5 374.8,566.8 375.6,567.7 376.4,567.2 377.2,567.9 378.0,567.6 378.8,567.0 379.6,566.8 380.4,566.9 381.2,567.7 382.0,567.4 382.8,567.8 383.6,568.0 384.4,567.5 385.2,567.0 386.0,567.0 386.8,567.2 387.6,566.8 388.4,567.9 389.2,568.0 390.0,567.6 390.8,567.9 391.6,568.0 392.4,567.7 393.2,567.4 394.0,567.6 394.8,567.8 395.6,567.1 396.4,566.9 397.2,567.7 398.0,568.2 398.8,568.3 399.6,567.0 400.4,568.3 401.2,567.3 402.0,567.5 402.8,567.9 403.6,567.2 404.4,568.4 405.2,568.2 406.0,567.7 406.8,568.4 407.6,567.2 408.4,568.1 409.2,568.2 410.0,568.4 410.8,567.5 411.6,567.8 412.4,567.5 413.2,567.5 414.0,567.2 414.8,567.0 415.6,567.4 416.4,568.2 417.2,567.8 418.0,568.2 418.8,568.5 419.6,567.8 420.0,567.4 420.4,568.3 421.2,568.2 422.0,568.2 422.8,567.7 423.6,568.1 424.4,568.0 425.2,567.9 426.0,568.5 426.8,568.0 427.6,567.9 428.4,569.2 429.2,568.0 430.0,568.4 430.0,569.3 430.8,568.8 431.6,568.6 432.4,568.1 433.2,568.9 434.0,568.6 434.8,568.2 435.6,568.3 436.4,568.1 437.2,568.8 438.0,568.5 438.8,569.2 439.6,568.4 440.4,568.3 441.2,568.5 442.0,568.4 442.8,569.2 443.6,568.2 444.4,568.0 445.2,568.0 446.0,568.7 446.8,568.3 447.6,569.0 448.4,568.1 449.2,568.2 450.0,569.0 450.8,569.4 451.6,568.8 452.4,568.7 453.2,568.3 454.0,568.8 454.8,569.5 455.6,568.3 456.4,569.4 457.2,568.3 458.0,569.2 458.8,569.0 459.6,568.3 460.4,569.3 461.2,569.3 462.0,568.7 462.8,568.4 463.6,568.2 464.4,568.5 465.2,568.1 466.0,568.8 466.8,568.1 467.6,569.4 468.4,569.2 469.2,568.7 470.0,569.1 470.8,568.4 471.6,568.5 472.4,568.7 473.2,568.2 474.0,568.7 474.8,569.0 475.6,568.9 476.4,568.2 477.2,568.1 478.0,569.2 478.8,568.2 479.6,568.0 480.0,568.7 480.4,568.5 481.2,568.8 482.0,568.0 482.8,567.8 483.0,567.6 483.6,568.5 484.4,567.1 485.2,567.7 486.0,567.9 486.8,567.3 487.6,567.7 488.4,567.8 489.2,567.5 490.0,568.4 490.8,567.7 491.6,567.9 492.4,567.1 493.2,567.2 494.0,568.1 494.8,567.8 495.6,568.4 496.4,567.9 497.2,567.3 498.0,567.2 498.8,567.9 499.6,568.1 500.4,568.3 501.2,567.7 502.0,567.2 502.8,568.4 503.6,567.4 504.4,568.6 505.2,568.3 506.0,568.3 506.8,567.6 507.6,568.1 508.4,568.1 509.2,567.7 510.0,568.5 510.8,567.5 511.6,568.4 512.4,567.9 513.2,568.3 514.0,568.3 514.8,567.8 515.6,568.0 516.4,568.1 517.2,568.0 518.0,567.9 518.8,568.4 519.6,568.4 520.4,567.7 521.2,567.7 522.0,567.9 522.8,567.4 523.6,567.8 524.4,567.4 525.2,568.3 526.0,567.6 526.8,567.5 527.6,567.3 528.4,568.2 529.2,568.2 530.0,567.3 530.8,568.4 531.6,567.2 532.4,567.4 533.2,568.5 534.0,568.4 534.8,567.6 535.6,568.3 536.4,568.6 537.2,567.5 538.0,568.1 538.8,567.6 539.6,568.6 540.4,568.1 541.2,567.7 542.0,568.7 542.8,568.5 543.6,567.7 544.4,567.4 545.2,567.3 546.0,568.6 546.8,568.0 547.6,567.6 548.4,568.0 549.2,567.8 550.0,568.5 550.8,568.7 551.6,568.6 552.4,568.7 553.2,568.0 554.0,568.0 554.8,568.0 555.6,568.6 556.4,568.5 557.2,568.5 558.0,567.6 558.8,567.3 559.6,567.4 560.4,568.7 561.2,568.7 562.0,567.4 562.8,568.1 563.6,567.7 564.4,568.4 565.2,568.2 566.0,568.1 566.8,568.2 567.6,568.0 568.4,568.8 569.2,567.8 570.0,567.6 570.8,568.6 571.6,568.2 572.4,567.8 573.2,568.3 574.0,568.6 574.8,568.6 575.6,568.1 576.4,568.9 577.2,567.6 578.0,567.7 578.8,567.9 579.6,567.6 580.4,568.0 581.2,568.3 582.0,568.0 582.8,568.2 583.6,567.5 584.4,567.7 585.2,568.5 586.0,567.6 586.8,567.8 587.6,567.8 588.4,567.7 589.2,568.3 590.0,567.6 590.8,567.6 591.6,567.9 592.4,567.8 593.2,567.8 594.0,568.4 594.8,567.9 595.6,568.9 596.4,568.5 597.2,568.3 598.0,569.0 598.8,568.5 599.6,568.0 600.0,568.1 600.4,568.7 601.2,567.6 602.0,568.0 602.8,568.5 603.6,568.0 604.4,568.1 605.2,568.2 606.0,568.4 606.8,567.5 607.6,568.0 608.4,567.9 609.2,567.9 610.0,567.5 610.8,569.0 611.6,568.1 612.4,567.9 613.2,568.6 614.0,568.4 614.8,568.9 615.6,568.7 616.4,568.4 617.2,568.9 618.0,568.6 618.8,567.6 619.6,568.2 620.4,568.2 621.2,567.5 622.0,568.1 622.8,567.5 623.6,568.0 624.4,567.8 625.2,568.9 626.0,568.1 626.8,567.9 627.6,568.9 628.4,567.6 629.2,568.8 630.0,568.3 630.8,568.7 631.6,568.3 632.4,568.1 633.2,568.9 634.0,567.6 634.8,568.4 635.6,568.2 636.4,568.1 637.2,568.5 638.0,568.6 638.8,568.0 639.6,568.2 640.4,568.6 641.2,567.9 642.0,568.6 642.8,569.0 643.6,568.6 644.4,568.9 645.2,568.8 646.0,567.9 646.8,568.4 647.6,567.7 648.4,567.9 649.2,568.9 650.0,567.5 650.8,567.6 651.6,568.9 652.4,567.6 653.2,568.4 654.0,568.3 654.8,567.5 655.6,568.6 656.4,568.2 657.2,567.6 658.0,567.9 658.8,568.3 659.6,567.5 660.4,567.8 661.2,568.1 662.0,568.8 662.8,568.1 663.6,568.3 664.4,568.7 665.2,568.9 666.0,568.2 666.8,568.8 667.6,568.3 668.4,568.0 669.2,568.3 670.0,568.6 670.8,568.1 671.6,568.4 672.4,567.8 673.2,568.2 674.0,567.5 674.8,567.6 675.6,567.9 676.4,568.6 677.2,568.8 678.0,567.7 678.8,567.8 679.6,568.1 680.0,568.5 680.4,568.6 681.2,568.0 682.0,568.1 682.8,568.1 683.6,568.0 684.4,567.8 685.2,568.7 686.0,568.6 686.8,567.5 687.6,567.6 688.4,567.6 689.2,568.9 690.0,568.9 690.8,568.5 691.6,568.3 692.4,568.0 693.2,568.8 694.0,568.1 694.8,568.8 695.6,568.8 696.4,567.9 697.2,568.1 698.0,568.0 698.8,568.3 699.6,568.2 700.4,568.6 701.2,568.4 702.0,567.8 702.8,567.6 703.6,568.8 704.4,568.7 705.2,567.7 706.0,567.9 706.8,567.7 707.6,568.5 708.4,568.2 709.2,568.5 710.0,567.6 710.8,568.3 711.6,567.9 712.4,567.4 713.2,568.3 714.0,568.0 714.8,567.7 715.6,567.4 716.4,568.2 717.2,568.3 718.0,568.7 718.8,567.5 719.6,568.7 720.4,568.7 721.2,567.9 722.0,568.1 722.8,567.8 723.6,568.3 724.4,567.6 725.2,568.7 726.0,568.5 726.8,567.8 727.6,568.6 728.4,568.3 729.2,567.7 730.0,567.7 730.8,568.3 731.6,568.5 732.4,568.2 733.2,567.6 734.0,568.2 734.8,568.5 735.6,567.7 736.4,567.9 737.2,567.3 738.0,567.3 738.8,567.3 739.6,568.0 740.4,567.5 741.2,568.2 742.0,568.2 742.8,568.1 743.6,567.3 744.4,567.3 745.2,568.3 746.0,568.1 746.8,568.1 747.6,568.1 748.4,568.1 749.2,568.1 750.0,568.4 750.8,567.8 751.6,567.4 752.4,567.8 753.2,567.4 754.0,567.8 754.8,568.4 755.6,567.5 756.4,567.3 757.2,568.2 758.0,568.6 758.8,567.8 759.6,567.8 760.4,567.7 761.2,567.1 762.0,567.6 762.8,567.4 763.6,568.5 764.4,567.8 765.2,567.4 766.0,568.4 766.8,568.4 767.6,567.5 768.4,567.2 769.2,568.4 770.0,567.6 770.8,568.3 771.6,567.4 772.4,567.6 773.2,568.2 774.0,568.2 774.8,567.4 775.6,567.7 776.4,567.4 777.2,567.9 778.0,568.0 778.8,567.1 779.6,567.5 780.0,567.8 780.4,567.7 781.2,567.4 782.0,567.3 782.8,567.0 783.6,567.7 784.4,567.0 785.2,567.2 786.0,566.9 786.8,566.9 787.6,566.8 788.4,566.7 789.2,566.5 790.0,567.0 790.8,567.1 791.6,566.8 792.4,566.6 793.2,567.1 794.0,567.1 794.8,567.4 795.6,566.5 796.4,566.1 797.2,567.0 798.0,567.2 798.8,567.1 799.6,566.7 800.4,566.9 801.2,565.8 802.0,567.2 802.8,566.7 803.6,567.0 804.4,566.1 805.2,565.9 806.0,566.7 806.8,566.9 807.6,566.2 808.4,566.0 809.2,565.5 810.0,566.7 810.8,566.6 811.6,566.4 812.4,566.3 813.2,566.2 814.0,565.5 814.8,565.6 815.0,566.2 815.6,566.1 816.4,565.8 817.2,565.8 818.0,564.8 818.8,565.3 819.6,564.8 820.0,564.3 820.4,564.8 821.2,565.0 822.0,564.0 822.8,563.9 823.6,564.7 824.4,564.3 825.2,563.7 826.0,564.3 826.8,564.7 827.6,564.9 828.4,563.4 829.2,563.6 830.0,564.2 830.8,563.9 831.6,563.9 832.4,564.2 833.2,563.0 834.0,563.5 834.8,564.0 835.6,564.3 836.4,563.6 837.2,563.7 838.0,563.0 838.8,563.0 839.6,563.1 840.0,563.8 840.4,563.7 841.2,563.4 842.0,563.5 842.8,562.5 843.6,563.0 844.4,562.8 845.2,562.2 846.0,563.2 846.8,562.7 847.6,563.3 848.4,562.3 849.2,563.4 850.0,562.1 850.8,562.0 851.6,562.0 852.4,563.0 853.2,562.7 854.0,562.0 854.8,562.9 855.0,562.3 855.6,562.3 856.4,561.5 857.2,562.0 858.0,561.5 858.8,562.3 859.6,561.5 860.4,562.0 861.2,561.2 862.0,562.4 862.8,561.2 863.6,562.1 864.4,561.5 865.2,561.5 866.0,562.0 866.8,560.9 867.6,561.6 868.4,561.6 869.0,561.9 869.2,561.5 870.0,561.1 870.8,560.6 871.6,561.0 872.4,560.3 873.2,561.1 874.0,560.5 874.8,560.2 875.6,559.3 876.4,559.4 877.0,559.5 877.2,560.5 878.0,559.9 878.8,559.3 879.6,559.9 880.4,559.4 881.2,559.5 882.0,560.1 882.8,558.6 883.6,558.8 884.4,559.6 885.2,558.9 886.0,559.4 886.8,559.2 887.6,558.9 888.4,559.2 889.2,559.1 890.0,558.9 890.0,558.5 890.8,559.1 891.6,559.2 892.4,558.4 893.2,559.0 894.0,558.1 894.8,558.7 895.6,558.4 896.4,559.0 897.2,558.3 898.0,559.4 898.8,559.3 899.6,559.4 900.0,558.5 900.4,558.4 901.2,559.3 902.0,558.9 902.8,558.3 903.6,558.7 904.4,559.5 905.2,559.3 906.0,559.4 906.8,559.5 907.6,559.1 908.4,559.6 909.2,558.3 910.0,559.1 910.8,559.0 911.6,558.8 912.4,558.7 913.2,558.6 914.0,559.3 914.8,559.4 915.6,559.3 916.4,559.9 917.2,559.3 918.0,558.9 918.8,558.5 919.6,558.8 920.4,559.0 921.2,559.1 922.0,560.0 922.8,559.6 923.6,559.6 924.4,559.1 925.2,560.0 926.0,559.6 926.8,559.4 927.6,559.0 928.4,559.0 929.2,559.3 930.0,560.0 930.8,559.1 931.6,558.9 932.4,559.5 933.2,559.8 934.0,559.6 934.8,560.2 935.6,559.3 936.4,558.9 937.2,559.7 938.0,559.4 938.8,559.2 939.6,560.2 940.0,559.1 940.4,559.3 941.2,559.5 942.0,559.3 942.8,558.6 943.6,557.6 944.4,557.0 945.2,557.1 946.0,555.7 946.8,556.1 947.6,555.5 948.0,555.8 948.4,556.9 949.0,561.8 949.0,571.5" fill="#440154"/><polygon points="780.0,571.0 780.0,567.6 780.7,567.3 781.4,567.3 782.1,568.0 782.8,568.3 783.5,567.5 784.2,567.6 784.9,566.8 785.6,566.9 786.3,567.0 787.0,567.0 787.7,566.8 788.4,567.6 789.1,567.0 789.8,567.5 790.5,566.3 791.2,567.6 791.9,566.3 792.6,567.5 793.3,566.4 794.0,566.9 794.7,566.7 795.4,566.0 796.1,567.5 796.8,567.3 797.5,565.8 798.2,566.3 798.9,567.1 799.6,565.5 800.3,565.5 801.0,566.9 801.7,566.2 802.4,566.7 803.1,566.3 803.8,565.6 804.5,566.5 805.2,565.3 805.9,566.7 806.6,566.3 807.3,564.9 808.0,565.6 808.7,565.5 809.4,565.1 810.1,565.3 810.8,565.4 811.5,566.5 812.2,564.5 812.9,564.0 813.6,563.8 814.3,564.4 815.0,565.1 815.7,565.0 816.4,564.1 817.1,564.0 817.8,565.4 818.5,564.9 819.2,564.4 819.9,564.0 820.6,563.3 821.3,563.8 822.0,565.1 822.7,562.9 823.4,563.7 824.1,563.4 824.8,564.1 825.5,563.5 826.2,563.5 826.9,562.5 827.6,564.3 828.3,562.8 829.0,563.9 829.7,562.3 830.4,564.4 831.1,563.3 831.8,563.0 832.5,562.1 833.2,564.1 833.9,562.4 834.6,563.2 835.3,562.8 836.0,562.1 836.7,560.6 837.4,561.9 838.1,560.4 838.8,563.0 839.5,560.3 840.2,562.0 840.9,562.7 841.6,560.5 842.3,559.8 843.0,563.7 843.7,562.0 844.4,559.9 845.1,561.5 845.8,561.8 846.5,563.4 847.2,563.0 847.9,559.9 848.6,558.3 849.3,558.1 850.0,560.0 850.7,562.9 851.4,560.7 852.1,558.4 852.8,558.1 853.5,558.9 854.2,560.9 854.9,559.2 855.6,559.3 856.3,558.4 857.0,560.4 857.7,556.7 858.4,556.8 859.1,560.9 859.8,559.8 860.5,556.4 861.2,559.7 861.9,555.8 862.6,558.0 863.3,556.8 864.0,556.7 864.7,559.8 865.4,559.1 866.1,559.3 866.8,556.3 867.5,556.1 868.2,560.1 868.9,554.7 869.6,557.4 870.3,558.6 871.0,556.6 871.7,552.3 872.4,554.9 873.1,554.1 873.8,551.4 874.5,550.6 875.2,551.6 875.9,553.9 876.6,551.1 877.3,546.3 878.0,545.9 878.7,547.5 879.4,550.4 880.1,549.2 880.8,542.7 881.5,545.9 882.2,558.9 882.9,544.1 883.6,541.5 884.3,543.4 885.0,542.4 885.7,543.0 886.4,548.7 887.1,546.0 887.8,551.9 888.5,556.8 889.2,553.0 889.9,553.9 890.6,547.6 891.3,550.0 892.0,551.5 892.7,550.7 893.4,556.7 894.1,551.7 894.8,550.1 895.5,553.3 896.2,555.1 896.9,553.2 897.6,554.2 898.3,550.5 899.0,556.5 899.7,557.4 900.4,554.4 901.1,550.4 901.8,549.8 902.5,550.6 903.2,548.0 903.9,553.5 904.6,558.6 905.3,552.1 906.0,552.5 906.7,555.8 907.4,550.0 908.1,553.6 908.8,554.9 909.5,553.6 910.2,546.8 910.9,559.3 911.6,553.1 912.3,554.1 913.0,555.3 913.7,552.0 914.4,554.9 915.1,546.3 915.8,550.9 916.5,548.5 917.2,555.8 917.9,551.2 918.6,549.3 919.3,546.5 920.0,554.2 920.7,551.0 921.4,546.1 922.1,546.2 922.8,554.4 923.5,549.7 924.2,546.8 924.9,551.8 925.6,548.2 926.3,548.5 927.0,545.1 927.7,550.2 928.4,548.7 929.1,553.1 929.8,548.5 930.5,553.7 931.2,551.5 931.9,553.4 932.6,554.2 933.3,556.9 934.0,555.5 934.7,551.6 935.4,555.3 936.1,558.9 936.8,548.9 937.5,554.8 938.2,547.6 938.9,551.1 939.6,553.5 940.3,548.2 941.0,547.9 941.7,553.9 942.4,556.3 943.1,550.1 943.8,548.3 944.5,550.2 945.2,548.7 945.9,551.7 946.6,549.8 947.3,552.7 948.0,551.2 948.7,557.4 948.7,571.0" fill="#440154" fill-opacity="0.55"/><polygon points="949.6,570.6 949.6,566.5 950.4,566.0 951.2,566.0 952.0,565.8 952.8,566.6 953.6,566.5 954.4,566.6 955.2,566.5 956.0,565.9 956.8,566.6 957.6,566.2 958.4,566.5 959.2,566.4 960.0,566.3 960.8,565.8 961.6,566.1 962.4,566.8 963.2,566.5 964.0,566.6 964.8,565.8 965.6,565.8 966.4,565.8 967.2,565.8 968.0,565.9 968.8,565.7 969.6,565.8 970.4,566.5 971.2,565.8 972.0,566.2 972.8,565.9 973.6,566.1 974.4,566.3 975.2,566.4 976.0,566.3 976.8,566.4 977.6,566.7 978.4,565.8 979.2,565.8 980.0,565.6 980.8,566.0 981.6,566.1 982.4,565.9 983.2,566.6 984.0,566.0 984.8,566.3 985.6,566.6 986.0,566.6 986.0,570.6" fill="#440154"/><polygon points="949.6,571.0 949.6,562.5 950.3,550.2 951.0,551.1 951.7,546.0 952.4,558.6 953.1,558.9 953.8,549.6 954.5,551.0 955.2,557.9 955.9,550.5 956.6,556.0 957.3,548.8 958.0,562.2 958.7,559.7 959.4,546.7 960.1,556.8 960.8,558.8 961.5,548.4 962.2,551.5 962.9,561.4 963.6,553.0 964.3,550.9 965.0,561.0 965.7,551.1 966.4,562.1 967.1,557.2 967.8,563.1 968.5,560.1 969.2,545.4 969.9,555.8 970.6,545.2 971.3,555.1 972.0,551.9 972.7,547.2 973.4,550.5 974.1,562.4 974.8,552.2 975.5,551.4 976.2,560.6 976.9,562.8 977.6,547.1 978.3,553.7 979.0,560.3 979.7,554.9 980.4,559.8 981.1,548.5 981.8,553.9 982.5,562.6 983.2,548.1 983.9,563.0 984.6,558.4 985.3,564.8 985.3,571.0" fill="#440154" fill-opacity="0.35"/><polygon points="957.54,571.0 958.34,512.8 959.14,571.0" fill="#440154" fill-opacity="0.45"/><polygon points="974.35,571.0 975.15,512.3 975.95,571.0" fill="#440154" fill-opacity="0.45"/><polygon points="981.78,571.0 982.58,543.0 983.38,571.0" fill="#440154" fill-opacity="0.45"/><polygon points="975.99,571.0 976.79,525.9 977.59,571.0" fill="#440154" fill-opacity="0.45"/><polygon points="978.36,571.0 979.16,516.0 979.96,571.0" fill="#440154" fill-opacity="0.45"/><polygon points="972.09,571.0 972.89,521.7 973.69,571.0" fill="#440154" fill-opacity="0.45"/><polygon points="968.93,571.0 969.73,548.4 970.53,571.0" fill="#440154" fill-opacity="0.45"/><polygon points="961.27,571.0 962.07,539.0 962.87,571.0" fill="#440154" fill-opacity="0.45"/><polygon points="976.66,571.0 977.46,508.9 978.26,571.0" fill="#440154" fill-opacity="0.45"/><polygon points="983.00,571.0 983.80,525.2 984.60,571.0" fill="#440154" fill-opacity="0.45"/><polygon points="970.42,571.0 971.22,518.6 972.02,571.0" fill="#440154" fill-opacity="0.45"/><polygon points="970.80,571.0 971.60,548.2 972.40,571.0" fill="#440154" fill-opacity="0.45"/><polygon points="964.97,571.0 965.77,538.0 966.57,571.0" fill="#440154" fill-opacity="0.45"/><polygon points="977.16,571.0 977.96,544.1 978.76,571.0" fill="#440154" fill-opacity="0.45"/><polygon points="171.0,571.0 172.0,555.0 174.5,531.6 176.0,545.0 177.6,532.0 179.0,545.0 181.0,520.0 183.4,510.5 185.4,501.0 187.0,525.0 190.5,503.4 192.0,525.0 194.4,509.7 197.0,530.0 199.0,550.0 202.0,563.0 204.0,568.0 206.0,571.0" fill="#440154" fill-opacity="0.7"/><polygon points="171.0,571.0 171.0,571.0 171.6,566.7 172.2,563.5 172.8,548.8 173.4,549.8 174.0,543.2 174.6,543.3 175.2,548.2 175.8,545.8 176.4,545.8 177.0,539.8 177.6,537.8 178.2,539.3 178.8,545.4 179.4,545.1 180.0,543.1 180.6,530.3 181.2,539.3 181.8,525.7 182.4,524.8 183.0,539.1 183.6,516.1 184.2,538.0 184.8,508.4 185.4,506.9 186.0,532.0 186.6,524.2 187.2,527.6 187.8,535.8 188.4,523.5 189.0,534.9 189.6,511.5 190.2,515.4 190.8,508.3 191.4,536.8 192.0,533.9 192.6,528.0 193.2,526.4 193.8,536.5 194.4,513.4 195.0,518.9 195.6,537.3 196.2,543.1 196.8,534.8 197.4,543.1 198.0,543.9 198.6,549.9 199.2,553.8 199.8,557.7 200.4,559.4 201.0,560.5 201.6,561.8 202.2,564.2 202.8,565.3 203.4,567.0 204.0,568.1 204.6,569.1 205.2,570.1 205.8,570.8 205.8,571.0" fill="#440154" fill-opacity="0.70"/><polygon points="171.0,571.0 171.0,571.0 171.6,570.4 172.2,567.8 172.8,566.6 173.4,561.9 174.0,560.5 174.6,557.3 175.2,564.9 175.8,558.0 176.4,566.2 177.0,559.7 177.6,554.4 178.2,565.6 178.8,558.5 179.4,550.0 180.0,550.6 180.6,556.3 181.2,548.6 181.8,544.8 182.4,567.1 183.0,543.3 183.6,544.1 184.2,550.3 184.8,555.5 185.4,538.6 186.0,549.7 186.6,558.3 187.2,558.0 187.8,540.1 188.4,544.0 189.0,540.7 189.6,541.9 190.2,545.3 190.8,538.4 191.4,548.6 192.0,545.0 192.6,541.5 193.2,545.7 193.8,543.3 194.4,548.4 195.0,547.5 195.6,563.5 196.2,557.4 196.8,556.8 197.4,563.1 198.0,560.1 198.6,564.0 199.2,561.8 199.8,560.0 200.4,563.6 201.0,565.0 201.6,566.9 202.2,567.3 202.8,566.3 203.4,568.1 204.0,569.4 204.6,570.3 205.2,570.3 205.8,570.9 205.8,571.0" fill="#440154" fill-opacity="0.60"/><rect x="186.7" y="557.2" width="1.3" height="1.8" fill="#fff" fill-opacity="0.35"/><rect x="198.6" y="556.5" width="1.4" height="2.5" fill="#fff" fill-opacity="0.35"/><rect x="197.9" y="558.2" width="1.2" height="2.5" fill="#fff" fill-opacity="0.35"/><rect x="189.4" y="556.0" width="1.3" height="1.8" fill="#fff" fill-opacity="0.35"/><rect x="194.4" y="557.0" width="1.2" height="2.8" fill="#fff" fill-opacity="0.35"/><rect x="198.7" y="557.3" width="1.0" height="3.9" fill="#fff" fill-opacity="0.35"/><rect x="186.3" y="568.8" width="1.5" height="2.3" fill="#fff" fill-opacity="0.35"/><rect x="197.7" y="566.8" width="1.2" height="3.9" fill="#fff" fill-opacity="0.35"/><rect x="188.9" y="564.5" width="1.4" height="3.9" fill="#fff" fill-opacity="0.35"/><rect x="190.4" y="561.6" width="1.7" height="3.0" fill="#fff" fill-opacity="0.35"/><polygon points="528.0,554.4 528.7,552.5 529.4,552.5 530.1,552.8 530.8,553.8 531.5,551.5 532.2,551.3 532.9,552.1 533.6,552.0 534.3,553.2 535.0,555.7 535.7,552.3 536.4,551.3 537.1,554.4 537.8,550.4 538.5,552.9 539.2,552.9 539.9,554.7 540.6,549.4 541.3,550.3 542.0,549.7 542.7,550.7 543.4,554.7 544.1,552.0 544.8,551.1 545.5,553.6 546.2,548.8 546.9,551.4 547.6,552.9 548.3,548.8 549.0,553.1 549.7,547.9 550.4,550.2 551.1,549.4 551.8,550.7 552.5,549.6 553.2,551.9 553.9,554.1 554.6,546.8 555.3,551.2 556.0,547.2 556.7,551.4 557.0,558.0 545.0,558.0 535.0,558.0 528.0,557.0" fill="#440154" fill-opacity="0.8"/><polygon points="528.0,548.2 528.7,551.3 529.4,551.7 530.1,547.8 530.8,550.9 531.5,551.0 532.2,548.9 532.9,550.0 533.6,547.8 534.3,550.2 535.0,547.3 535.7,549.7 536.4,548.5 537.1,547.2 537.8,548.0 538.5,547.1 539.2,547.8 539.9,550.2 540.6,547.0 541.3,548.0 542.0,548.9 542.7,549.3 543.4,546.7 544.1,547.6 544.8,546.3 545.5,546.7 546.2,545.8 546.9,547.2 547.6,546.5 548.3,546.7 549.0,548.0 549.7,545.0 550.4,547.6 551.1,545.4 551.8,544.5 552.5,545.7 553.2,547.9 553.9,544.6 554.6,545.2 555.3,547.3 556.0,547.9 556.7,545.4 557.0,558.0 545.0,558.0 535.0,558.0 528.0,557.0" fill="#440154" fill-opacity="0.2"/><polygon points="556.90,556.0 557.50,535.6 558.10,556.0" fill="#440154" fill-opacity="0.60"/><polygon points="557.0,557.0 557.0,550.5 557.7,550.4 558.4,550.8 559.1,556.4 559.8,552.9 560.5,554.0 561.2,553.3 561.9,556.1 562.6,555.7 563.3,553.9 564.0,555.5 564.7,553.8 565.4,556.8 566.1,556.4 566.8,552.0 567.5,554.1 568.2,553.4 568.9,551.9 569.6,554.5 570.3,556.6 571.0,551.5 571.7,552.9 572.4,552.4 573.1,552.7 573.8,550.2 574.5,554.5 575.2,551.7 575.9,554.4 576.6,553.0 577.3,552.4 578.0,554.8 578.7,556.4 579.4,553.7 580.1,552.0 580.8,552.9 581.5,553.9 582.2,552.5 582.9,555.7 583.6,555.8 584.3,554.7 585.0,551.3 585.7,555.6 586.4,556.2 587.1,556.3 587.8,556.7 588.5,555.1 589.2,553.0 589.9,551.3 590.6,554.7 591.3,554.4 592.0,555.0 592.7,554.9 593.4,551.6 594.1,553.2 594.8,555.2 595.5,556.3 596.2,551.5 596.9,552.0 597.6,551.2 598.3,555.3 599.0,553.2 599.7,550.6 600.4,552.9 601.1,550.4 601.8,555.8 602.5,550.2 603.2,556.6 603.9,554.1 604.6,556.8 605.3,551.3 606.0,552.2 606.7,550.2 607.4,551.4 608.1,550.4 608.8,553.2 609.5,550.1 610.2,551.8 610.9,554.6 611.6,550.2 612.3,554.4 613.0,555.6 613.7,556.5 614.4,553.7 615.1,555.6 615.8,550.5 616.5,550.3 617.2,555.5 617.9,556.3 618.6,553.3 619.3,555.8 620.0,553.2 620.7,551.3 621.4,555.2 622.1,554.0 622.8,550.7 623.5,553.9 624.2,554.6 624.9,550.8 625.6,551.3 626.3,550.7 627.0,552.2 627.7,554.1 628.4,552.1 629.1,551.2 629.8,552.5 630.5,555.3 631.2,554.9 631.9,554.1 632.6,551.6 633.3,553.1 634.0,553.2 634.7,551.2 635.4,556.2 636.1,552.6 636.8,554.7 637.5,553.1 638.2,551.2 638.9,555.3 639.6,550.3 640.3,556.5 641.0,553.1 641.7,553.2 642.4,555.4 643.1,553.1 643.8,553.7 644.5,553.9 645.2,552.0 645.9,557.0 646.6,554.4 647.3,551.5 648.0,556.0 648.7,551.0 649.4,555.6 650.1,552.3 650.8,555.8 651.5,553.9 652.2,554.1 652.9,556.4 653.6,552.2 654.3,553.7 655.0,552.3 655.7,553.3 656.4,553.2 657.1,553.4 657.8,555.0 658.5,550.8 659.2,556.4 659.9,551.0 660.6,551.1 661.3,553.6 662.0,551.7 662.7,552.4 663.4,552.9 664.1,555.0 664.8,554.8 665.5,554.6 666.2,555.0 666.9,550.5 667.6,554.7 668.3,554.4 669.0,554.2 669.7,551.5 670.4,553.8 671.1,553.3 671.8,555.3 672.5,555.1 673.2,556.4 673.9,555.5 674.6,555.2 675.3,551.3 676.0,553.6 676.7,556.3 677.4,553.9 678.1,556.2 678.8,553.2 679.5,554.1 680.2,551.3 680.9,555.3 681.6,551.3 682.3,555.4 683.0,550.5 683.7,552.8 684.4,556.7 685.1,551.7 685.8,555.2 686.5,554.6 687.2,556.0 687.9,551.5 688.6,556.4 689.3,552.1 690.0,554.4 690.7,552.5 691.4,555.1 692.1,556.5 692.8,551.0 693.5,552.7 694.2,555.9 694.9,550.6 695.6,551.0 696.3,555.8 697.0,556.9 697.7,553.0 698.4,556.1 699.1,552.2 699.8,554.0 700.5,552.4 701.2,553.3 701.9,552.0 702.6,551.7 703.3,553.1 704.0,553.2 704.7,554.9 705.4,556.1 706.1,556.4 706.8,551.5 707.5,555.7 708.2,554.3 708.9,555.0 709.6,553.0 710.3,553.6 711.0,551.5 711.7,554.2 712.4,554.7 713.1,552.8 713.8,552.2 714.5,551.1 715.2,555.0 715.9,551.4 716.6,550.8 717.3,550.8 718.0,556.2 718.7,554.6 719.4,552.1 720.1,551.7 720.8,556.7 721.5,554.5 722.2,552.4 722.9,552.2 723.6,553.6 724.3,555.7 725.0,554.4 725.7,556.6 726.4,555.0 727.1,554.3 727.8,551.8 728.5,553.3 729.2,554.4 729.9,555.5 730.6,555.0 731.3,552.8 732.0,554.2 732.7,555.9 733.4,551.9 734.1,553.4 734.8,551.0 735.5,553.7 736.2,553.1 736.9,554.4 737.6,553.2 738.3,551.3 739.0,550.9 739.7,552.9 740.4,554.3 741.1,556.6 741.8,551.8 742.5,554.6 743.2,554.7 743.9,556.6 744.6,556.8 745.3,554.6 746.0,551.0 746.7,552.5 747.4,552.7 748.1,552.9 748.8,555.3 749.5,556.0 750.2,553.3 750.9,556.6 751.6,553.4 752.3,553.9 753.0,553.7 753.7,556.3 754.4,556.6 755.1,554.1 755.8,556.1 756.5,553.1 757.2,555.1 757.9,553.3 758.6,552.5 759.3,553.4 760.0,553.8 760.7,555.8 761.4,554.9 762.1,551.1 762.8,555.4 763.5,555.3 764.2,554.0 764.9,553.7 765.6,552.3 766.3,555.2 767.0,551.2 767.7,556.9 768.4,552.3 769.1,553.6 769.8,551.6 770.5,556.1 771.2,552.9 771.9,551.3 772.6,553.0 773.3,556.3 774.0,551.5 774.7,551.2 775.4,556.3 776.1,552.0 776.8,556.5 777.5,556.5 778.2,552.2 778.9,552.7 779.6,551.3 780.3,553.2 781.0,553.9 781.7,555.4 782.4,553.6 783.1,551.0 783.8,553.1 784.5,551.7 785.2,555.8 785.9,552.6 786.6,552.6 787.3,556.6 788.0,552.1 788.7,555.9 789.4,555.7 789.4,557.0" fill="#440154" fill-opacity="0.07"/><rect x="131.5" y="570.96" width="894.8" height="2.1" fill="#000"/><rect x="131.50" y="95.50" width="894.80" height="532.90" fill="none" stroke="#000" stroke-width="1.1"/><line x1="127.2" y1="586.33" x2="131.5" y2="586.33" stroke="#000" stroke-width="1.1"/><text transform="translate(124.10,595.73) scale(1.000,1.040)" font-size="27.75" text-anchor="end">75</text><line x1="127.2" y1="516.21" x2="131.5" y2="516.21" stroke="#000" stroke-width="1.1"/><text transform="translate(124.10,525.61) scale(1.000,1.040)" font-size="27.75" text-anchor="end">100</text><line x1="127.2" y1="446.09" x2="131.5" y2="446.09" stroke="#000" stroke-width="1.1"/><text transform="translate(124.10,455.49) scale(1.000,1.040)" font-size="27.75" text-anchor="end">125</text><line x1="127.2" y1="375.97" x2="131.5" y2="375.97" stroke="#000" stroke-width="1.1"/><text transform="translate(124.10,385.37) scale(1.000,1.040)" font-size="27.75" text-anchor="end">150</text><line x1="127.2" y1="305.86" x2="131.5" y2="305.86" stroke="#000" stroke-width="1.1"/><text transform="translate(124.10,315.26) scale(1.000,1.040)" font-size="27.75" text-anchor="end">175</text><line x1="127.2" y1="235.74" x2="131.5" y2="235.74" stroke="#000" stroke-width="1.1"/><text transform="translate(124.10,245.14) scale(1.000,1.040)" font-size="27.75" text-anchor="end">200</text><line x1="127.2" y1="165.62" x2="131.5" y2="165.62" stroke="#000" stroke-width="1.1"/><text transform="translate(124.10,175.02) scale(1.000,1.040)" font-size="27.75" text-anchor="end">225</text><line x1="127.2" y1="95.50" x2="131.5" y2="95.50" stroke="#000" stroke-width="1.1"/><text transform="translate(124.10,104.90) scale(1.000,1.040)" font-size="27.75" text-anchor="end">250</text><line x1="348.6" y1="628.40" x2="348.6" y2="632.70" stroke="#000" stroke-width="1.1"/><line x1="600.4" y1="628.40" x2="600.4" y2="632.70" stroke="#000" stroke-width="1.1"/><line x1="851.4" y1="628.40" x2="851.4" y2="632.70" stroke="#000" stroke-width="1.1"/><line x1="1026.3" y1="628.40" x2="1030.6" y2="628.40" stroke="#000" stroke-width="1.1"/><text transform="translate(1033.60,632.00) scale(1.000,1.040)" font-size="9.70">0</text><line x1="1026.3" y1="561.79" x2="1030.6" y2="561.79" stroke="#000" stroke-width="1.1"/><text transform="translate(1033.60,565.39) scale(1.000,1.040)" font-size="9.70">50</text><line x1="1026.3" y1="495.17" x2="1030.6" y2="495.17" stroke="#000" stroke-width="1.1"/><text transform="translate(1033.60,498.77) scale(1.000,1.040)" font-size="9.70">100</text><line x1="1026.3" y1="428.56" x2="1030.6" y2="428.56" stroke="#000" stroke-width="1.1"/><text transform="translate(1033.60,432.16) scale(1.000,1.040)" font-size="9.70">150</text><line x1="1026.3" y1="361.95" x2="1030.6" y2="361.95" stroke="#000" stroke-width="1.1"/><text transform="translate(1033.60,365.55) scale(1.000,1.040)" font-size="9.70">200</text><line x1="1026.3" y1="295.34" x2="1030.6" y2="295.34" stroke="#000" stroke-width="1.1"/><text transform="translate(1033.60,298.94) scale(1.000,1.040)" font-size="9.70">250</text><line x1="1026.3" y1="228.73" x2="1030.6" y2="228.73" stroke="#000" stroke-width="1.1"/><text transform="translate(1033.60,232.33) scale(1.000,1.040)" font-size="9.70">300</text><line x1="1026.3" y1="162.11" x2="1030.6" y2="162.11" stroke="#000" stroke-width="1.1"/><text transform="translate(1033.60,165.71) scale(1.000,1.040)" font-size="9.70">350</text><line x1="1026.3" y1="95.50" x2="1030.6" y2="95.50" stroke="#000" stroke-width="1.1"/><text transform="translate(1033.60,99.10) scale(1.000,1.040)" font-size="9.70">400</text><g transform="translate(0,0.00) rotate(-90)"><text transform="translate(-426.40,45.80) scale(1.020,1.000)" font-size="23.00" font-style="italic">dN/dt</text><rect x="-425.7" y="52.9" width="52.8" height="2.1" fill="#000"/><g transform="translate(-407.1,58.6)"><circle cx="11.2" cy="2.5" r="1.35" fill="#000"/><path d="M 12.2 1.6 C 11.6 0.4 9.8 0.3 8.8 1.2" stroke="#000" stroke-width="0.8" fill="none"/><polygon points="8.6,0.9 10.0,1.5 6.6,6.8 2.0,13.6 0.4,14.8 3.6,8.6" fill="#000"/><polygon points="0.2,14.4 3.0,12.8 8.0,13.3 12.4,13.5 14.5,12.0 13.8,13.9 10.5,15.0 4.5,15.0 0.6,15.5" fill="#000"/></g><text transform="translate(-361.75,59.70) scale(1.000,0.930)" font-size="33.00">(mb)</text></g><rect x="1082.50" y="95.50" width="27.00" height="532.90" fill="url(#vir)" stroke="#000" stroke-width="1.1"/><line x1="1109.5" y1="628.40" x2="1113.5" y2="628.40" stroke="#000" stroke-width="1.1"/><text transform="translate(1116.25,637.80) scale(1.000,1.040)" font-size="27.75">0.0</text><line x1="1109.5" y1="521.82" x2="1113.5" y2="521.82" stroke="#000" stroke-width="1.1"/><text transform="translate(1116.25,531.22) scale(1.000,1.040)" font-size="27.75">0.2</text><line x1="1109.5" y1="415.24" x2="1113.5" y2="415.24" stroke="#000" stroke-width="1.1"/><text transform="translate(1116.25,424.64) scale(1.000,1.040)" font-size="27.75">0.4</text><line x1="1109.5" y1="308.66" x2="1113.5" y2="308.66" stroke="#000" stroke-width="1.1"/><text transform="translate(1116.25,318.06) scale(1.000,1.040)" font-size="27.75">0.6</text><line x1="1109.5" y1="202.08" x2="1113.5" y2="202.08" stroke="#000" stroke-width="1.1"/><text transform="translate(1116.25,211.48) scale(1.000,1.040)" font-size="27.75">0.8</text><line x1="1109.5" y1="95.50" x2="1113.5" y2="95.50" stroke="#000" stroke-width="1.1"/><text transform="translate(1116.25,104.90) scale(1.000,1.040)" font-size="27.75">1.0</text><g transform="translate(1178.3,479.00) rotate(-90)"><text transform="translate(-1.28,0.00) scale(1.000,1.000)" font-size="33.30">collides in LHCB</text></g><rect x="877" y="103.6" width="142" height="33" rx="2.5" fill="#fff" stroke="#bbb" stroke-width="1"/><rect x="881.9" y="117.3" width="36.1" height="2.6" fill="#000"/><text transform="translate(931,123.6)" font-size="18" font-style="italic">&#963;</text><text transform="translate(940,126.0)" font-size="12" font-style="italic">inel</text><text transform="translate(955,123.6)" font-size="18">=80 mb</text><rect x="754.5" y="101.8" width="266.1" height="41.1" rx="2.5" fill="#fff" fill-opacity="0.8" stroke="#d3d3d3" stroke-width="1"/><line x1="759.3" y1="111.5" x2="786.7" y2="111.5" stroke="#62a0d2" stroke-width="1.1"/><line x1="759.3" y1="130.3" x2="786.7" y2="130.3" stroke="#ffa556" stroke-width="1.1"/><text transform="translate(797.2,117.15) scale(1,1.03)" font-size="13.35">RPMC.UL14.RBBCW.L1B1:I_MEAS</text><text transform="translate(797.2,135.00) scale(1,1.03)" font-size="13.35">RPMC.USC55.RBBCW.L5B1:I_MEAS</text><polygon points="208.0,1160.0 208.0,1128.0 208.7,1129.1 209.4,1128.5 210.1,1126.4 210.8,1133.0 211.5,1134.5 212.2,1134.6 212.9,1127.6 213.6,1135.6 214.3,1128.4 215.0,1129.9 215.7,1136.2 216.4,1132.2 217.1,1133.5 217.8,1134.2 218.5,1125.8 219.2,1137.3 219.9,1137.7 220.6,1127.7 221.3,1135.2 222.0,1137.3 222.7,1136.3 223.4,1136.2 224.1,1129.0 224.8,1137.9 225.5,1138.0 226.2,1134.7 226.9,1135.4 227.6,1130.6 228.3,1132.4 229.0,1137.8 229.7,1139.1 230.4,1133.2 231.1,1131.4 231.8,1140.1 232.5,1134.7 233.2,1133.3 233.9,1135.8 234.6,1139.5 235.3,1134.5 236.0,1135.3 236.7,1139.8 237.4,1136.4 238.1,1139.8 238.8,1140.6 239.5,1139.2 240.2,1139.3 240.9,1138.9 241.6,1136.9 242.3,1135.2 243.0,1134.0 243.7,1134.0 244.4,1134.0 245.1,1136.1 245.8,1140.0 246.5,1140.7 247.2,1137.9 247.9,1138.6 248.6,1137.7 249.3,1141.3 250.0,1140.9 250.7,1135.9 251.4,1138.7 252.1,1138.1 252.8,1141.7 253.5,1140.4 254.2,1136.5 254.9,1138.8 255.6,1136.0 256.3,1141.8 257.0,1140.5 257.7,1138.1 258.4,1140.8 259.1,1138.4 259.8,1140.2 260.5,1142.7 261.2,1142.8 261.9,1137.1 262.6,1142.9 263.3,1142.8 264.0,1142.2 264.7,1139.8 265.4,1138.8 266.1,1141.7 266.8,1141.7 267.5,1139.7 268.2,1143.1 268.9,1142.7 269.6,1141.3 270.3,1141.3 271.0,1144.3 271.7,1144.2 272.4,1144.2 273.1,1141.0 273.8,1141.4 274.5,1139.3 275.2,1141.1 275.9,1144.2 276.6,1141.3 277.3,1139.7 278.0,1144.1 278.7,1145.3 279.4,1144.2 280.1,1144.7 280.8,1145.2 281.5,1145.6 282.2,1145.4 282.9,1141.5 283.6,1145.7 284.3,1143.3 285.0,1145.4 285.7,1145.5 286.4,1142.2 287.1,1145.2 287.8,1145.7 288.5,1144.6 289.2,1143.4 289.9,1144.4 290.6,1142.5 291.3,1145.2 292.0,1144.7 292.7,1143.7 293.4,1145.1 294.1,1143.9 294.8,1145.2 295.5,1146.5 296.2,1146.5 296.9,1143.8 297.6,1144.1 298.3,1143.1 299.0,1144.6 299.7,1145.2 300.4,1146.8 301.1,1144.0 301.8,1147.0 302.5,1146.2 303.2,1147.1 303.9,1146.5 304.6,1146.8 305.3,1146.4 306.0,1145.3 306.7,1146.1 307.4,1147.3 308.1,1145.2 308.8,1145.5 309.5,1145.1 310.2,1148.0 310.9,1146.3 311.6,1145.0 312.3,1147.7 313.0,1148.0 313.7,1145.6 314.4,1147.6 315.1,1147.6 315.8,1145.9 316.5,1147.8 317.2,1148.4 317.9,1148.4 318.6,1148.1 319.3,1146.8 320.0,1148.2 320.7,1146.6 321.4,1149.1 322.1,1148.8 322.8,1147.5 323.5,1148.2 324.2,1148.2 324.9,1146.3 325.6,1149.0 326.3,1149.3 327.0,1149.6 327.7,1148.5 328.4,1149.1 329.1,1148.6 329.8,1149.7 330.5,1149.8 331.2,1149.0 331.9,1147.7 332.6,1149.3 333.3,1147.1 334.0,1148.5 334.7,1149.2 335.4,1147.9 336.1,1149.7 336.8,1148.6 337.5,1147.7 338.2,1149.0 338.9,1149.7 339.6,1150.1 340.3,1149.0 341.0,1150.1 341.7,1149.7 342.4,1149.2 343.1,1147.8 343.8,1148.9 344.5,1149.4 345.2,1148.3 345.9,1150.1 346.6,1149.9 347.3,1149.1 348.0,1149.5 348.7,1150.4 349.4,1150.0 350.1,1148.8 350.8,1150.5 351.5,1149.3 352.2,1150.8 352.9,1148.6 353.6,1149.5 354.3,1150.5 355.0,1148.6 355.7,1149.3 356.4,1151.0 357.1,1150.8 357.8,1150.3 358.5,1148.9 359.2,1151.1 359.9,1151.2 360.6,1150.9 361.3,1151.3 362.0,1150.8 362.7,1150.5 363.4,1150.7 364.1,1151.3 364.8,1151.5 365.5,1149.9 366.2,1150.9 366.9,1150.8 367.6,1150.9 368.3,1150.4 369.0,1149.8 369.7,1150.0 370.4,1150.4 371.1,1151.3 371.8,1151.6 372.5,1151.7 373.2,1150.1 373.9,1151.8 374.6,1151.0 375.3,1150.0 376.0,1151.6 376.7,1151.5 377.4,1151.4 378.1,1150.1 378.8,1150.9 379.5,1150.5 380.2,1152.1 380.9,1150.8 381.6,1151.6 382.3,1151.7 383.0,1150.7 383.7,1151.0 384.4,1150.5 385.1,1151.0 385.8,1150.6 386.5,1151.8 387.2,1151.6 387.9,1151.0 388.6,1151.9 389.3,1152.4 390.0,1151.6 390.7,1150.9 391.4,1151.0 392.1,1152.6 392.8,1152.2 393.5,1152.5 394.2,1152.3 394.9,1150.9 395.6,1152.3 396.3,1152.5 397.0,1152.6 397.7,1152.3 398.4,1151.8 399.1,1152.6 399.8,1152.8 400.5,1152.8 401.2,1152.8 401.9,1151.3 402.6,1153.0 403.3,1151.8 404.0,1153.2 404.7,1151.7 405.4,1153.0 406.1,1151.8 406.8,1152.8 407.5,1153.4 408.2,1153.5 408.9,1151.8 409.6,1152.6 410.3,1152.8 411.0,1153.2 411.7,1152.2 412.4,1152.9 413.1,1153.8 413.8,1152.6 414.5,1153.5 415.2,1151.8 415.9,1152.9 416.6,1152.1 417.3,1154.0 418.0,1152.4 418.7,1152.8 419.4,1151.8 420.1,1151.7 420.8,1153.1 421.5,1153.0 422.2,1152.3 422.9,1154.1 423.6,1153.2 424.3,1152.2 425.0,1153.1 425.7,1153.3 426.4,1152.0 427.1,1151.4 427.8,1154.4 428.5,1154.8 429.2,1153.2 429.9,1154.8 430.6,1151.4 431.3,1153.8 432.0,1153.5 432.7,1152.2 433.4,1152.0 434.1,1154.8 434.8,1153.9 435.5,1154.7 436.2,1153.8 436.9,1154.8 437.6,1152.0 438.3,1154.2 439.0,1154.1 439.7,1151.9 440.4,1152.3 441.1,1154.3 441.8,1153.7 442.5,1153.0 443.2,1154.7 443.9,1154.8 444.6,1152.1 445.3,1154.8 446.0,1152.8 446.7,1152.7 447.4,1153.4 448.1,1154.3 448.8,1152.1 449.5,1152.5 450.2,1154.9 450.9,1152.0 451.6,1153.2 452.3,1154.4 453.0,1154.8 453.7,1154.9 454.4,1152.4 455.1,1152.2 455.8,1154.3 456.5,1154.7 457.2,1154.9 457.9,1154.1 458.6,1154.4 459.3,1155.0 460.0,1154.4 460.7,1152.4 461.4,1154.9 462.1,1154.1 462.8,1153.7 463.5,1154.8 464.2,1155.0 464.9,1154.9 465.6,1154.8 466.3,1151.7 467.0,1152.2 467.7,1153.0 468.4,1152.1 469.1,1154.4 469.8,1154.6 470.5,1152.2 471.2,1153.4 471.9,1152.0 472.6,1154.3 473.3,1154.1 474.0,1152.9 474.7,1152.2 475.4,1154.8 476.1,1154.5 476.8,1155.0 477.5,1153.6 478.2,1152.0 478.9,1153.6 479.6,1154.8 480.3,1153.1 481.0,1153.3 481.7,1154.9 482.4,1152.1 483.1,1153.2 483.8,1153.9 484.5,1154.3 485.2,1154.8 485.9,1153.9 486.6,1154.3 487.3,1154.6 488.0,1153.3 488.7,1153.2 489.4,1152.0 490.1,1151.9 490.8,1154.0 491.5,1153.0 492.2,1154.3 492.9,1154.1 493.6,1153.6 494.3,1151.9 495.0,1155.0 495.7,1154.0 496.4,1154.4 497.1,1152.7 497.8,1152.0 498.5,1154.0 499.2,1154.9 499.9,1153.5 500.6,1153.6 501.3,1153.2 502.0,1152.8 502.7,1154.0 503.4,1153.7 504.1,1152.9 504.8,1155.0 505.5,1154.6 506.2,1153.2 506.9,1152.0 507.6,1152.2 508.3,1154.5 509.0,1152.0 509.7,1154.5 510.4,1154.1 511.1,1154.8 511.8,1153.6 512.5,1154.2 513.2,1153.3 513.9,1152.1 514.6,1154.9 515.3,1153.4 516.0,1153.6 516.7,1154.6 517.4,1155.0 518.1,1152.3 518.8,1153.3 519.5,1153.5 520.2,1154.9 520.9,1152.4 521.6,1154.2 522.3,1154.0 523.0,1153.7 523.7,1154.1 524.4,1152.2 525.1,1154.0 525.8,1153.3 526.5,1152.9 527.2,1152.2 527.9,1154.7 528.6,1154.4 529.3,1152.1 530.0,1153.5 530.7,1154.2 531.4,1152.4 532.1,1154.8 532.8,1154.5 533.5,1154.9 534.2,1153.2 534.9,1153.9 535.6,1154.4 536.3,1154.0 537.0,1154.5 537.7,1153.0 538.4,1152.8 539.1,1154.2 539.8,1152.4 540.5,1154.9 541.2,1153.5 541.9,1154.7 542.6,1154.8 543.3,1153.6 544.0,1154.8 544.7,1154.8 545.4,1154.7 546.1,1154.1 546.8,1152.4 547.5,1154.4 548.2,1154.7 548.9,1152.7 549.6,1152.5 550.3,1151.6 551.0,1154.8 551.7,1154.6 552.4,1153.9 553.1,1151.6 553.8,1153.5 554.5,1152.1 555.2,1154.5 555.9,1153.8 556.6,1153.0 557.3,1154.5 558.0,1153.6 558.7,1152.3 559.4,1152.4 560.1,1152.9 560.8,1152.3 561.5,1151.5 562.2,1153.2 562.9,1154.3 563.6,1154.3 564.3,1154.6 565.0,1151.8 565.7,1153.2 566.4,1153.1 567.1,1152.0 567.8,1152.7 568.5,1153.8 569.2,1153.1 569.9,1154.4 570.6,1154.1 571.3,1153.8 572.0,1152.2 572.7,1152.7 573.4,1152.9 574.1,1153.6 574.8,1153.7 575.5,1153.6 576.2,1154.2 576.9,1153.6 577.6,1151.7 578.3,1152.0 579.0,1153.8 579.7,1153.1 580.4,1152.3 581.1,1153.9 581.8,1153.5 582.5,1152.8 583.2,1153.8 583.9,1151.6 584.6,1154.0 585.3,1151.7 586.0,1152.4 586.7,1153.2 587.4,1153.5 588.1,1151.7 588.8,1152.2 589.5,1153.6 590.2,1153.3 590.9,1153.7 591.6,1152.4 592.3,1153.0 593.0,1153.3 593.7,1152.2 594.4,1153.3 595.1,1153.5 595.8,1151.8 596.5,1151.5 597.2,1151.7 597.9,1152.5 598.6,1152.0 599.3,1151.5 600.0,1153.5 600.7,1153.1 601.4,1152.9 602.1,1151.9 602.8,1152.9 603.5,1151.7 604.2,1153.0 604.9,1151.0 605.6,1152.6 606.3,1152.1 607.0,1152.0 607.7,1151.3 608.4,1152.1 609.1,1152.9 609.8,1152.4 610.5,1152.1 611.2,1153.0 611.9,1151.2 612.6,1152.6 613.3,1150.8 614.0,1152.4 614.7,1150.6 615.4,1151.4 616.1,1152.3 616.8,1151.4 617.5,1152.8 618.2,1152.8 618.9,1151.7 619.6,1152.3 620.3,1152.1 621.0,1151.2 621.7,1151.9 622.4,1151.5 623.1,1151.0 623.8,1150.7 624.5,1152.5 625.2,1150.7 625.9,1150.9 626.6,1152.2 627.3,1152.4 628.0,1152.2 628.7,1152.4 629.4,1151.3 630.1,1149.9 630.8,1151.5 631.5,1152.0 632.2,1152.1 632.9,1149.9 633.6,1151.2 634.3,1151.9 635.0,1150.0 635.7,1151.5 636.4,1149.7 637.1,1151.2 637.8,1151.8 638.5,1151.9 639.2,1152.0 639.9,1150.2 640.6,1151.5 641.3,1150.4 642.0,1150.0 642.7,1151.3 643.4,1151.0 644.1,1150.3 644.8,1150.5 645.5,1151.2 646.2,1151.5 646.9,1151.4 647.6,1151.7 648.3,1150.4 649.0,1150.4 649.7,1149.9 650.4,1150.9 651.1,1150.0 651.8,1150.5 652.5,1149.6 653.2,1150.5 653.9,1150.1 654.6,1150.3 655.3,1151.2 656.0,1151.3 656.7,1149.5 657.4,1149.9 658.1,1150.4 658.8,1149.1 659.5,1151.1 660.2,1149.7 660.9,1150.3 661.6,1151.1 662.3,1151.0 663.0,1151.1 663.7,1150.9 664.4,1149.4 665.1,1150.2 665.8,1151.0 666.5,1150.1 667.2,1148.6 667.9,1149.2 668.6,1150.5 669.3,1150.1 670.0,1150.3 670.7,1150.6 671.4,1149.5 672.1,1150.8 672.8,1150.0 673.5,1148.5 674.2,1149.1 674.9,1149.4 675.6,1148.8 676.3,1148.3 677.0,1150.3 677.7,1148.3 678.4,1148.4 679.1,1149.7 679.8,1150.4 680.5,1149.5 681.2,1149.6 681.9,1148.0 682.6,1150.1 683.3,1148.9 684.0,1148.7 684.7,1149.2 685.4,1150.0 686.1,1148.2 686.8,1150.0 687.5,1148.3 688.2,1148.2 688.9,1149.3 689.6,1150.2 690.3,1149.9 691.0,1150.2 691.7,1150.0 692.4,1149.6 693.1,1149.1 693.8,1148.3 694.5,1150.1 695.2,1148.5 695.9,1150.0 696.6,1148.5 697.3,1150.1 698.0,1149.5 698.7,1147.7 699.4,1147.9 700.1,1150.0 700.8,1149.3 701.5,1147.7 702.2,1149.7 702.9,1149.1 703.6,1149.5 704.3,1149.4 705.0,1148.9 705.7,1149.6 706.4,1149.6 707.1,1147.3 707.8,1148.0 708.5,1148.5 709.2,1149.5 709.9,1149.5 710.6,1148.4 711.3,1148.4 712.0,1149.5 712.7,1147.2 713.4,1148.9 714.1,1149.1 714.8,1148.2 715.5,1147.3 716.2,1148.9 716.9,1148.5 717.6,1149.3 718.3,1148.5 719.0,1147.2 719.7,1147.1 720.4,1148.7 721.1,1147.3 721.8,1146.8 722.5,1148.7 723.2,1147.2 723.9,1148.7 724.6,1146.8 725.3,1147.0 726.0,1146.8 726.7,1148.3 727.4,1147.6 728.1,1147.5 728.8,1147.9 729.5,1148.8 730.2,1147.6 730.9,1147.2 731.6,1147.6 732.3,1146.8 733.0,1146.6 733.7,1147.5 734.4,1148.2 735.1,1147.8 735.8,1148.4 736.5,1148.3 737.2,1146.4 737.9,1147.9 738.6,1147.8 739.3,1146.7 740.0,1146.9 740.7,1148.4 741.4,1147.8 742.1,1147.5 742.8,1148.0 743.5,1146.9 744.2,1147.2 744.9,1146.6 745.6,1148.1 746.3,1148.0 747.0,1147.8 747.7,1147.3 748.4,1147.8 749.1,1147.3 749.8,1147.6 750.5,1147.9 751.2,1146.4 751.9,1147.1 752.6,1146.1 753.3,1147.0 754.0,1146.2 754.7,1146.7 755.4,1146.9 756.1,1145.8 756.8,1147.1 757.5,1145.7 758.2,1146.6 758.9,1145.7 759.6,1147.2 760.3,1146.5 761.0,1146.8 761.7,1145.8 762.4,1145.6 763.1,1145.7 763.8,1146.5 764.5,1146.9 765.2,1145.3 765.9,1146.6 766.6,1145.5 767.3,1145.9 768.0,1145.6 768.7,1145.6 769.4,1146.3 770.1,1146.1 770.8,1146.0 771.5,1145.5 772.2,1145.5 772.9,1144.8 773.6,1145.6 774.3,1145.8 775.0,1146.0 775.7,1145.6 776.4,1145.4 777.1,1145.2 777.8,1146.0 778.5,1145.8 779.2,1145.2 779.9,1144.9 780.6,1144.5 781.3,1145.8 782.0,1144.9 782.7,1145.4 783.4,1145.1 784.1,1144.9 784.8,1145.4 785.5,1145.0 786.2,1144.2 786.9,1145.8 787.6,1145.1 788.3,1144.0 789.0,1144.3 789.7,1145.5 790.4,1144.4 791.1,1144.1 791.8,1145.2 792.5,1144.9 793.2,1145.3 793.9,1143.7 794.6,1145.5 795.3,1144.4 796.0,1143.6 796.7,1143.6 797.4,1143.9 798.1,1145.0 798.8,1143.6 799.5,1143.8 800.2,1144.9 800.9,1145.0 801.6,1145.1 802.3,1145.1 803.0,1144.5 803.7,1144.8 804.4,1143.3 805.1,1145.4 805.8,1144.3 806.5,1144.7 807.2,1143.0 807.9,1143.0 808.6,1143.9 809.3,1143.8 810.0,1144.7 810.7,1143.8 811.4,1145.0 812.1,1143.4 812.8,1144.1 813.5,1145.0 814.2,1145.0 814.9,1144.6 815.6,1144.7 816.3,1143.7 817.0,1144.3 817.7,1145.1 818.4,1144.6 819.1,1144.3 819.8,1142.4 820.5,1142.6 821.2,1143.7 821.9,1142.4 822.6,1144.9 823.3,1144.8 824.0,1144.9 824.7,1144.6 825.4,1144.6 826.1,1143.8 826.8,1142.4 827.5,1144.3 828.2,1144.3 828.9,1143.8 829.6,1141.9 830.3,1143.6 831.0,1141.6 831.7,1144.1 832.4,1143.3 833.1,1143.0 833.8,1142.6 834.5,1142.0 835.2,1144.3 835.9,1144.1 836.6,1144.3 837.3,1142.1 838.0,1143.1 838.7,1143.1 839.4,1144.2 840.1,1141.7 840.8,1140.8 841.5,1144.1 842.2,1140.6 842.9,1142.8 843.6,1143.8 844.3,1143.9 845.0,1141.8 845.7,1141.3 846.4,1142.9 847.1,1140.8 847.8,1143.7 848.5,1140.7 849.2,1143.4 849.9,1143.3 850.6,1142.8 851.3,1142.8 852.0,1140.3 852.7,1142.1 853.4,1142.3 854.1,1140.5 854.8,1142.2 855.5,1142.6 856.2,1142.4 856.9,1141.4 857.6,1139.7 858.3,1139.6 859.0,1143.0 859.7,1142.1 860.4,1140.7 861.1,1141.6 861.8,1140.4 862.5,1139.3 863.2,1142.9 863.9,1140.6 864.6,1142.4 865.3,1140.8 866.0,1142.5 866.7,1142.6 867.4,1139.7 868.1,1140.7 868.8,1140.7 869.5,1141.6 870.2,1142.2 870.9,1142.7 871.6,1139.0 872.3,1139.9 873.0,1140.1 873.7,1142.6 874.4,1142.6 875.1,1141.3 875.8,1142.5 876.5,1140.7 877.2,1141.9 877.9,1139.8 878.6,1142.3 879.3,1141.1 880.0,1141.4 880.7,1142.0 881.4,1141.7 882.1,1142.1 882.8,1141.8 883.5,1141.2 884.2,1141.4 884.9,1140.2 885.6,1139.1 886.3,1140.9 887.0,1142.0 887.7,1140.9 888.4,1142.1 889.1,1139.2 889.8,1142.2 890.5,1141.6 891.2,1138.6 891.9,1140.4 892.6,1141.4 893.3,1142.1 894.0,1141.8 894.7,1139.1 895.4,1142.0 896.1,1139.8 896.8,1141.8 897.5,1139.4 898.2,1141.9 898.9,1141.8 899.6,1141.7 900.3,1138.2 901.0,1141.6 901.7,1140.1 902.4,1137.8 903.1,1138.8 903.8,1140.7 904.5,1138.4 905.2,1139.5 905.9,1139.5 906.6,1139.5 907.3,1139.3 908.0,1137.7 908.7,1136.7 909.4,1135.8 910.1,1136.7 910.8,1137.2 911.5,1135.1 912.2,1137.5 912.9,1134.6 913.6,1134.2 914.3,1135.7 915.0,1134.8 915.7,1135.0 916.4,1134.5 917.1,1134.3 917.8,1134.1 918.5,1134.0 919.2,1134.5 919.9,1135.1 920.6,1134.6 921.3,1134.5 922.0,1133.1 922.7,1134.6 923.4,1132.7 924.1,1133.4 924.8,1131.2 925.5,1133.2 926.2,1131.7 926.9,1133.7 927.6,1133.5 928.3,1130.6 929.0,1130.6 929.7,1132.8 930.4,1132.1 931.1,1130.3 931.8,1132.7 932.5,1130.4 933.2,1130.1 933.9,1128.5 934.6,1128.0 935.3,1129.2 936.0,1131.8 936.7,1128.5 937.4,1131.3 938.1,1130.8 938.8,1128.0 939.5,1129.6 940.2,1129.7 940.9,1127.0 941.6,1127.0 942.3,1129.8 943.0,1126.7 943.7,1125.4 944.4,1127.3 945.1,1129.5 945.8,1128.1 946.5,1128.0 947.2,1129.3 947.9,1127.0 948.6,1129.8 949.3,1129.7 950.0,1125.8 950.7,1129.1 951.4,1129.8 952.1,1127.0 952.8,1127.0 953.5,1128.8 954.2,1128.6 954.9,1130.0 955.6,1130.0 956.3,1126.5 957.0,1126.2 957.7,1127.5 958.4,1127.6 959.1,1128.9 959.8,1129.3 960.5,1127.4 961.2,1127.0 961.9,1129.9 962.6,1129.8 963.3,1129.9 964.0,1127.4 964.7,1128.5 965.4,1129.9 966.1,1128.4 966.8,1125.9 967.5,1127.0 968.2,1127.2 968.9,1127.7 969.6,1129.6 970.3,1128.1 971.0,1128.6 971.7,1125.8 972.4,1130.0 973.1,1130.0 973.8,1130.0 974.5,1129.9 975.2,1129.1 975.9,1127.5 976.6,1126.8 977.3,1126.5 978.0,1129.9 978.7,1128.7 979.4,1127.8 980.1,1129.0 980.8,1128.8 981.5,1128.8 982.2,1127.6 982.9,1128.2 983.6,1121.7 984.3,1123.6 985.0,1121.0 985.0,1160.0" fill="#fae525" fill-opacity="0.70"/><polygon points="208.0,1160.0 208.0,1127.1 208.8,1128.7 209.6,1130.0 210.4,1132.4 211.2,1133.4 212.0,1134.7 212.0,1134.6 212.8,1135.9 213.6,1135.4 214.4,1135.6 215.2,1136.0 216.0,1135.4 216.8,1136.3 217.6,1136.6 218.4,1136.0 219.2,1136.6 220.0,1137.3 220.8,1137.5 221.6,1137.4 222.4,1138.2 223.2,1137.6 224.0,1137.6 224.8,1138.2 225.6,1137.8 226.4,1137.8 227.2,1138.5 228.0,1138.5 228.8,1139.6 229.6,1139.8 230.0,1138.5 230.4,1139.6 231.2,1139.8 232.0,1138.8 232.8,1139.1 233.6,1140.1 234.4,1139.8 235.2,1140.0 236.0,1140.0 236.8,1140.5 237.6,1139.8 238.4,1140.2 239.2,1140.1 240.0,1140.5 240.8,1140.6 241.6,1140.8 242.4,1139.6 243.2,1139.9 244.0,1140.2 244.8,1140.9 245.6,1140.9 246.4,1141.1 247.2,1140.8 248.0,1141.3 248.8,1141.0 249.6,1141.2 250.0,1141.2 250.4,1140.6 251.2,1141.0 252.0,1141.1 252.8,1141.3 253.6,1141.2 254.4,1140.9 255.2,1141.7 256.0,1142.2 256.8,1141.7 257.6,1141.9 258.4,1141.4 259.2,1142.6 260.0,1141.5 260.8,1142.9 261.6,1142.2 262.4,1142.5 263.2,1142.8 264.0,1142.0 264.8,1142.4 265.6,1143.3 266.4,1142.9 267.2,1142.9 268.0,1143.8 268.8,1143.9 269.6,1143.2 270.4,1143.1 271.2,1143.6 272.0,1143.8 272.8,1143.8 273.6,1144.3 274.4,1143.4 275.2,1143.4 276.0,1144.2 276.8,1145.0 277.6,1144.6 278.4,1144.1 279.2,1144.9 280.0,1145.3 280.0,1145.2 280.8,1144.5 281.6,1144.7 282.4,1145.3 283.2,1144.8 284.0,1144.7 284.8,1144.4 285.6,1144.7 286.4,1145.3 287.2,1144.8 288.0,1144.7 288.8,1144.9 289.6,1145.1 290.4,1145.4 291.2,1145.6 292.0,1145.1 292.8,1145.5 293.6,1145.4 294.4,1146.2 295.2,1146.5 296.0,1146.3 296.8,1145.9 297.6,1146.0 298.4,1146.6 299.2,1146.7 300.0,1145.6 300.0,1146.9 300.8,1145.7 301.6,1146.0 302.4,1146.4 303.2,1145.8 304.0,1146.4 304.8,1147.5 305.6,1146.2 306.4,1147.0 307.2,1146.3 308.0,1146.6 308.8,1147.7 309.6,1147.9 310.4,1148.0 311.2,1146.9 312.0,1147.0 312.8,1147.9 313.6,1148.2 314.4,1147.9 315.2,1147.3 316.0,1147.5 316.8,1147.4 317.6,1147.3 318.4,1147.7 319.2,1147.7 320.0,1149.0 320.8,1149.1 321.6,1147.9 322.4,1148.3 323.2,1148.8 324.0,1149.2 324.8,1149.0 325.0,1149.0 325.6,1148.8 326.4,1148.9 327.2,1149.3 328.0,1149.5 328.8,1149.4 329.6,1149.5 330.4,1149.6 331.2,1149.2 332.0,1149.7 332.8,1148.7 333.6,1149.1 334.4,1149.3 335.2,1149.1 336.0,1149.7 336.8,1150.1 337.6,1150.0 338.4,1149.7 339.2,1149.7 340.0,1149.9 340.8,1149.8 341.6,1149.1 342.4,1150.4 343.2,1149.7 344.0,1149.9 344.8,1150.1 345.6,1149.4 346.4,1150.2 347.2,1150.5 348.0,1150.4 348.8,1149.2 349.6,1150.2 350.4,1150.6 351.2,1149.4 352.0,1149.9 352.8,1149.5 353.6,1150.4 354.4,1149.8 355.2,1150.9 356.0,1150.7 356.8,1149.9 357.6,1150.4 358.4,1150.0 359.2,1150.6 360.0,1149.9 360.0,1151.1 360.8,1150.3 361.6,1151.0 362.4,1151.1 363.2,1150.1 364.0,1150.8 364.8,1150.2 365.6,1151.1 366.4,1150.4 367.2,1150.2 368.0,1150.7 368.8,1151.3 369.6,1150.7 370.4,1150.3 371.2,1150.5 372.0,1151.1 372.8,1151.2 373.6,1151.7 374.4,1150.7 375.2,1151.7 376.0,1151.6 376.8,1151.9 377.6,1151.8 378.4,1151.5 379.2,1151.4 380.0,1151.9 380.8,1151.5 381.6,1151.1 382.4,1152.1 383.2,1152.1 384.0,1151.5 384.8,1151.0 385.6,1151.0 386.4,1151.6 387.2,1152.3 388.0,1151.2 388.8,1151.0 389.6,1151.2 390.4,1151.8 391.2,1152.0 392.0,1151.8 392.8,1151.5 393.6,1151.2 394.4,1152.0 395.2,1152.0 396.0,1152.4 396.8,1152.0 397.6,1152.1 398.4,1152.5 399.2,1152.3 400.0,1151.6 400.0,1152.6 400.8,1152.7 401.6,1152.6 402.4,1151.9 403.2,1152.8 404.0,1152.0 404.8,1151.9 405.6,1152.1 406.4,1152.2 407.2,1153.2 408.0,1152.9 408.8,1152.4 409.6,1153.3 410.4,1152.8 411.2,1152.4 412.0,1152.4 412.8,1153.3 413.6,1153.7 414.4,1153.9 415.2,1153.5 416.0,1153.2 416.8,1153.7 417.6,1152.9 418.4,1153.3 419.2,1153.3 420.0,1153.1 420.8,1153.9 421.6,1153.5 422.4,1154.0 423.2,1154.1 424.0,1154.4 424.8,1153.5 425.6,1153.4 426.4,1154.7 427.2,1153.7 428.0,1154.8 428.8,1154.3 429.6,1154.5 430.0,1153.6 430.4,1154.4 431.2,1154.2 432.0,1154.5 432.8,1154.6 433.6,1154.6 434.4,1154.9 435.2,1155.0 436.0,1154.2 436.8,1153.9 437.6,1154.0 438.4,1154.6 439.2,1153.5 440.0,1154.9 440.8,1154.4 441.6,1154.5 442.4,1154.7 443.2,1153.6 444.0,1153.9 444.8,1154.8 445.6,1154.7 446.4,1153.8 447.2,1154.4 448.0,1154.5 448.8,1154.6 449.6,1154.5 450.4,1154.1 451.2,1154.5 452.0,1154.1 452.8,1154.9 453.6,1154.2 454.4,1154.1 455.2,1154.5 456.0,1153.7 456.8,1153.6 457.6,1154.0 458.4,1154.4 459.2,1154.8 460.0,1154.1 460.8,1154.6 461.6,1154.8 462.4,1154.2 463.2,1154.7 464.0,1154.0 464.8,1153.9 465.6,1155.0 466.4,1154.1 467.2,1154.7 468.0,1154.5 468.8,1153.9 469.6,1153.6 470.4,1154.5 471.2,1153.9 472.0,1154.5 472.8,1153.6 473.6,1154.7 474.4,1154.0 475.2,1154.9 476.0,1154.2 476.8,1153.9 477.6,1153.6 478.4,1153.9 479.2,1154.2 480.0,1154.4 480.8,1154.1 481.6,1154.0 482.4,1154.1 483.2,1153.9 484.0,1153.9 484.8,1153.6 485.6,1154.1 486.4,1153.7 487.2,1153.9 488.0,1154.4 488.8,1153.8 489.6,1154.5 490.4,1153.8 491.2,1153.7 492.0,1153.7 492.8,1153.6 493.6,1154.0 494.4,1154.3 495.2,1154.6 496.0,1154.0 496.8,1153.7 497.6,1154.5 498.4,1154.7 499.2,1153.9 500.0,1153.6 500.8,1154.7 501.6,1154.8 502.4,1154.8 503.2,1154.2 504.0,1153.8 504.8,1154.6 505.6,1153.8 506.4,1154.9 507.2,1154.7 508.0,1154.2 508.8,1153.9 509.6,1154.3 510.4,1154.0 511.2,1154.5 512.0,1154.4 512.8,1154.2 513.6,1155.0 514.4,1154.7 515.2,1154.5 516.0,1154.0 516.8,1154.7 517.6,1154.6 518.4,1153.5 519.2,1154.0 520.0,1154.4 520.0,1153.8 520.8,1153.9 521.6,1153.8 522.4,1154.1 523.2,1154.1 524.0,1154.8 524.8,1154.3 525.6,1154.4 526.4,1154.6 527.2,1154.4 528.0,1153.6 528.8,1154.6 529.6,1154.8 530.4,1154.4 531.2,1154.7 532.0,1154.9 532.8,1153.6 533.6,1154.1 534.4,1154.9 535.2,1154.1 536.0,1154.7 536.8,1154.2 537.6,1153.5 538.4,1153.4 539.2,1154.3 540.0,1153.7 540.8,1154.2 541.6,1154.8 542.4,1154.3 543.2,1153.7 544.0,1153.7 544.8,1153.8 545.6,1153.4 546.4,1154.3 547.2,1153.8 548.0,1153.6 548.8,1153.5 549.6,1153.5 550.4,1153.5 551.2,1154.3 552.0,1154.3 552.8,1153.9 553.6,1154.7 554.4,1154.4 555.2,1154.3 556.0,1154.5 556.8,1154.5 557.6,1153.8 558.4,1154.3 559.2,1154.7 560.0,1153.6 560.0,1153.4 560.8,1154.4 561.6,1153.7 562.4,1154.6 563.2,1154.4 564.0,1154.4 564.8,1153.7 565.6,1153.8 566.4,1153.4 567.2,1153.6 568.0,1153.4 568.8,1153.2 569.6,1153.6 570.4,1154.1 571.2,1154.2 572.0,1153.1 572.8,1153.2 573.6,1153.4 574.4,1152.9 575.2,1153.1 576.0,1153.7 576.8,1154.0 577.6,1153.6 578.4,1152.8 579.2,1152.8 580.0,1154.1 580.8,1154.1 581.6,1153.4 582.4,1152.7 583.2,1152.7 584.0,1152.8 584.8,1153.9 585.6,1153.7 586.4,1152.8 587.2,1153.3 588.0,1153.4 588.8,1152.4 589.6,1153.8 590.4,1153.1 591.2,1152.5 592.0,1152.7 592.8,1152.4 593.6,1153.3 594.4,1152.8 595.2,1152.2 596.0,1153.4 596.8,1153.0 597.6,1152.1 598.4,1153.3 599.2,1152.4 600.0,1152.4 600.0,1153.1 600.8,1152.0 601.6,1152.3 602.4,1153.2 603.2,1151.9 604.0,1152.0 604.8,1152.6 605.6,1153.2 606.4,1152.1 607.2,1152.4 608.0,1152.1 608.8,1153.1 609.6,1152.4 610.4,1151.9 611.2,1152.0 612.0,1152.8 612.8,1152.5 613.6,1152.3 614.4,1152.3 615.2,1151.4 616.0,1151.5 616.8,1152.9 617.6,1151.9 618.4,1152.6 619.2,1151.5 620.0,1152.0 620.8,1151.4 621.6,1151.3 622.4,1151.3 623.2,1152.4 624.0,1152.5 624.8,1151.4 625.6,1151.8 626.4,1151.3 627.2,1151.8 628.0,1151.8 628.8,1151.3 629.6,1151.8 630.4,1151.6 631.2,1151.7 632.0,1151.3 632.8,1152.2 633.6,1151.5 634.4,1151.3 635.2,1151.2 636.0,1150.8 636.8,1151.6 637.6,1150.6 638.4,1151.0 639.2,1151.5 640.0,1151.2 640.8,1151.4 641.6,1151.0 642.4,1151.9 643.2,1150.5 644.0,1151.3 644.8,1151.8 645.6,1151.7 646.4,1151.3 647.2,1151.3 648.0,1150.4 648.8,1151.1 649.6,1150.3 650.4,1151.2 651.2,1151.1 652.0,1150.1 652.8,1150.2 653.6,1150.1 654.4,1151.3 655.2,1151.3 656.0,1150.4 656.8,1150.9 657.6,1151.2 658.4,1151.2 659.2,1150.8 660.0,1150.8 660.8,1150.2 661.6,1149.7 662.4,1150.9 663.2,1149.9 664.0,1150.2 664.8,1149.8 665.6,1149.6 666.4,1149.6 667.2,1150.8 668.0,1149.8 668.8,1149.8 669.6,1150.3 670.4,1150.8 671.2,1149.7 672.0,1149.9 672.8,1149.6 673.6,1149.6 674.4,1149.6 675.2,1150.6 676.0,1149.2 676.8,1149.2 677.6,1150.1 678.4,1149.4 679.2,1149.1 680.0,1149.9 680.0,1150.0 680.8,1149.6 681.6,1149.3 682.4,1149.8 683.2,1149.4 684.0,1149.0 684.8,1149.8 685.6,1149.0 686.4,1150.1 687.2,1149.4 688.0,1149.1 688.8,1149.7 689.6,1149.8 690.4,1149.8 691.2,1149.7 692.0,1149.6 692.8,1149.6 693.6,1149.8 694.4,1149.2 695.2,1149.8 696.0,1149.7 696.8,1149.4 697.6,1148.7 698.4,1149.6 699.2,1149.7 700.0,1148.8 700.0,1149.1 700.8,1149.8 701.6,1148.5 702.4,1149.6 703.2,1148.9 704.0,1149.5 704.8,1148.6 705.6,1149.2 706.4,1148.8 707.2,1148.5 708.0,1148.6 708.8,1149.2 709.6,1149.2 710.4,1148.7 711.2,1148.8 712.0,1148.4 712.8,1149.4 713.6,1149.4 714.4,1149.4 715.2,1148.2 716.0,1149.1 716.8,1148.2 717.6,1148.6 718.4,1147.8 719.2,1148.3 720.0,1147.9 720.8,1149.0 721.6,1147.8 722.4,1148.5 723.2,1149.0 724.0,1147.8 724.8,1148.7 725.6,1148.0 726.4,1148.9 727.2,1148.3 728.0,1148.2 728.8,1148.2 729.6,1147.6 730.4,1148.4 731.2,1147.4 732.0,1148.5 732.8,1147.2 733.6,1148.2 734.4,1147.6 735.2,1147.2 736.0,1147.5 736.8,1147.2 737.6,1148.4 738.4,1147.0 739.2,1148.4 740.0,1147.4 740.8,1147.1 741.6,1147.2 742.4,1147.2 743.2,1147.4 744.0,1146.8 744.8,1147.9 745.6,1146.8 746.4,1146.9 747.2,1147.8 748.0,1147.4 748.8,1147.4 749.6,1147.8 750.0,1146.7 750.4,1146.7 751.2,1146.8 752.0,1147.8 752.8,1146.7 753.6,1146.3 754.4,1146.6 755.2,1146.2 756.0,1146.1 756.8,1146.4 757.6,1146.3 758.4,1146.9 759.2,1146.1 760.0,1146.8 760.8,1146.8 761.6,1146.6 762.4,1146.6 763.2,1146.9 764.0,1146.7 764.8,1146.4 765.6,1146.5 766.4,1146.7 767.2,1145.6 768.0,1145.4 768.8,1146.1 769.6,1145.4 770.4,1145.1 771.2,1146.3 772.0,1145.4 772.8,1145.4 773.6,1145.9 774.4,1144.8 775.2,1144.9 776.0,1145.2 776.0,1145.2 776.8,1144.7 777.6,1145.9 778.4,1144.6 779.2,1145.1 780.0,1145.5 780.8,1145.5 781.6,1145.1 782.4,1145.7 783.2,1144.6 784.0,1145.2 784.8,1144.5 785.6,1144.4 786.4,1144.6 787.2,1145.6 788.0,1145.4 788.8,1144.8 789.6,1144.3 790.4,1144.8 791.2,1145.2 792.0,1144.5 792.8,1145.0 793.6,1144.8 794.4,1144.9 795.2,1144.2 796.0,1144.7 796.8,1145.4 797.6,1144.6 798.4,1144.9 799.2,1145.3 800.0,1144.8 800.8,1145.1 801.6,1144.1 802.4,1145.1 803.2,1144.6 804.0,1145.4 804.8,1145.0 805.6,1144.4 806.4,1144.6 807.2,1144.4 808.0,1144.5 808.8,1144.4 809.6,1144.9 810.4,1143.9 811.2,1144.3 812.0,1145.2 812.8,1144.0 813.6,1145.0 814.4,1144.6 815.2,1144.2 816.0,1143.9 816.8,1144.9 817.6,1144.7 818.4,1144.4 819.2,1144.1 820.0,1144.4 820.8,1144.0 821.6,1143.6 822.4,1145.0 823.2,1144.5 824.0,1143.9 824.8,1143.8 825.6,1143.6 826.0,1144.5 826.4,1144.6 827.2,1143.9 828.0,1143.6 828.8,1143.6 829.6,1144.0 830.4,1144.5 831.2,1143.6 832.0,1144.3 832.8,1144.6 833.6,1144.5 834.4,1144.0 835.2,1143.9 836.0,1143.6 836.8,1143.7 837.6,1143.5 838.4,1143.3 839.2,1143.9 840.0,1143.0 840.8,1143.1 841.6,1142.9 842.4,1143.2 843.2,1143.2 844.0,1142.7 844.8,1142.9 845.6,1143.4 846.4,1142.5 847.2,1143.5 848.0,1143.3 848.8,1142.4 849.6,1142.9 850.4,1143.3 851.2,1142.2 852.0,1142.6 852.8,1143.4 853.6,1142.9 854.4,1142.8 855.2,1142.9 856.0,1142.2 856.8,1142.8 857.6,1143.0 858.4,1141.8 859.2,1142.2 860.0,1142.3 860.0,1141.7 860.8,1142.0 861.6,1141.7 862.4,1142.4 863.2,1142.5 864.0,1142.4 864.8,1142.2 865.6,1142.0 866.4,1142.5 867.2,1142.0 868.0,1141.4 868.8,1141.7 869.6,1142.8 870.4,1142.0 871.2,1141.8 872.0,1142.6 872.8,1141.2 873.6,1141.5 874.4,1141.8 875.2,1141.8 876.0,1141.6 876.8,1142.0 877.6,1141.7 878.4,1141.8 879.2,1142.0 880.0,1141.8 880.8,1142.4 881.6,1141.5 882.4,1142.1 883.2,1142.0 884.0,1142.2 884.8,1141.3 885.6,1141.7 886.4,1141.5 887.2,1141.6 888.0,1141.4 888.8,1141.7 889.6,1141.9 890.4,1141.1 891.2,1141.1 892.0,1142.0 892.8,1142.0 893.6,1141.6 894.4,1140.9 895.2,1141.7 896.0,1141.8 896.8,1141.4 897.6,1141.3 898.4,1141.1 899.2,1141.5 900.0,1141.4 900.0,1140.5 900.8,1140.6 901.6,1141.1 902.4,1140.4 903.2,1140.6 904.0,1139.1 904.8,1139.9 905.6,1138.6 906.4,1139.4 907.2,1139.1 908.0,1138.7 908.8,1138.4 909.6,1138.1 910.4,1137.7 911.2,1137.4 912.0,1137.6 912.8,1136.5 913.6,1136.2 914.4,1136.6 915.2,1136.4 916.0,1136.3 916.8,1135.8 917.0,1135.2 917.6,1134.9 918.4,1134.3 919.2,1134.3 920.0,1135.1 920.8,1134.8 921.6,1134.7 922.4,1134.7 923.2,1134.6 924.0,1133.7 924.8,1132.9 925.6,1132.7 926.4,1133.9 927.2,1133.4 928.0,1133.1 928.8,1132.2 929.6,1133.1 930.4,1132.5 931.2,1131.6 932.0,1131.6 932.8,1132.3 933.6,1131.7 934.4,1131.3 935.2,1131.9 936.0,1130.6 936.8,1130.7 937.6,1131.0 938.4,1130.9 939.2,1131.1 940.0,1129.7 940.8,1130.6 941.6,1129.8 942.4,1129.5 943.2,1129.5 944.0,1129.0 944.8,1129.6 945.0,1129.0 945.6,1129.7 946.4,1128.9 947.2,1128.9 948.0,1129.3 948.8,1128.9 949.6,1129.0 950.4,1130.0 951.2,1129.7 952.0,1129.7 952.8,1129.0 953.6,1128.8 954.4,1129.7 955.0,1128.6 955.2,1129.7 956.0,1129.4 956.8,1128.7 957.6,1129.6 958.4,1128.7 959.2,1129.9 960.0,1129.6 960.8,1128.7 961.6,1129.0 962.4,1129.8 963.2,1129.3 964.0,1129.2 964.8,1130.0 965.6,1128.6 966.4,1130.0 967.2,1128.6 968.0,1129.0 968.8,1129.0 969.6,1129.4 970.4,1129.6 971.2,1129.3 972.0,1128.6 972.8,1129.9 973.6,1129.3 974.4,1129.1 975.2,1128.5 976.0,1128.9 976.8,1128.6 977.6,1128.9 978.4,1129.3 979.2,1128.6 980.0,1129.9 980.0,1128.9 980.8,1129.5 981.6,1129.0 982.4,1128.6 983.2,1127.6 984.0,1126.6 984.8,1126.2 985.5,1126.1 985.5,1160.0" fill="#fae525"/><polygon points="175,684 194,684 197.5,872 201.3,987 207,1060 209,1128 209,1160 171.2,1160 171.5,1100 172,987 172.6,872" fill="#fae525" fill-opacity="0.45"/><polygon points="182.8,684 189,684 190.5,760 194,872 200,987 208,1040 209,1060 209,1128 209,1160 171.2,1160 171.5,1100 172.3,987 176,872 181,760" fill="#fae525"/><rect x="191.0" y="697.0" width="1.0" height="253.0" fill="#fae525" fill-opacity="0.5"/><rect x="191.5" y="688.6" width="1.2" height="261.4" fill="#fae525" fill-opacity="0.5"/><rect x="186.2" y="708.5" width="0.9" height="241.5" fill="#fae525" fill-opacity="0.5"/><rect x="187.6" y="704.0" width="1.5" height="246.0" fill="#fae525" fill-opacity="0.5"/><rect x="175.6" y="722.3" width="0.9" height="227.7" fill="#fae525" fill-opacity="0.5"/><rect x="191.3" y="704.3" width="1.5" height="245.7" fill="#fae525" fill-opacity="0.5"/><rect x="178.7" y="696.9" width="0.9" height="253.1" fill="#fae525" fill-opacity="0.5"/><rect x="190.6" y="705.4" width="1.0" height="244.6" fill="#fae525" fill-opacity="0.5"/><rect x="178.8" y="687.2" width="1.0" height="262.8" fill="#fae525" fill-opacity="0.5"/><rect x="186.2" y="701.5" width="1.4" height="248.5" fill="#fae525" fill-opacity="0.5"/><rect x="176.5" y="717.6" width="1.6" height="232.4" fill="#fae525" fill-opacity="0.5"/><rect x="189.8" y="713.7" width="1.5" height="236.3" fill="#fae525" fill-opacity="0.5"/><polygon points="174.57,1140.0 175.42,711.7 176.27,1140.0" fill="#fae525" fill-opacity="0.55"/><polygon points="199.25,1140.0 200.14,847.0 201.02,1140.0" fill="#fae525" fill-opacity="0.55"/><polygon points="186.57,1140.0 188.01,730.6 189.45,1140.0" fill="#fae525" fill-opacity="0.55"/><polygon points="175.55,1140.0 176.37,740.2 177.19,1140.0" fill="#fae525" fill-opacity="0.55"/><polygon points="200.66,1140.0 202.35,917.5 204.04,1140.0" fill="#fae525" fill-opacity="0.55"/><polygon points="205.03,1140.0 206.05,1048.8 207.08,1140.0" fill="#fae525" fill-opacity="0.55"/><polygon points="187.29,1140.0 189.00,728.3 190.71,1140.0" fill="#fae525" fill-opacity="0.55"/><polygon points="185.04,1140.0 185.84,740.8 186.63,1140.0" fill="#fae525" fill-opacity="0.55"/><polygon points="188.65,1140.0 189.85,686.4 191.05,1140.0" fill="#fae525" fill-opacity="0.55"/><polygon points="205.63,1140.0 207.61,1068.6 209.60,1140.0" fill="#fae525" fill-opacity="0.55"/><polygon points="203.76,1140.0 204.58,1004.4 205.40,1140.0" fill="#fae525" fill-opacity="0.55"/><polygon points="188.11,1140.0 188.97,725.5 189.84,1140.0" fill="#fae525" fill-opacity="0.55"/><polygon points="180.93,1140.0 182.74,689.5 184.54,1140.0" fill="#fae525" fill-opacity="0.55"/><polygon points="203.26,1140.0 204.95,1039.5 206.64,1140.0" fill="#fae525" fill-opacity="0.55"/><polygon points="191.37,1140.0 192.72,687.7 194.07,1140.0" fill="#fae525" fill-opacity="0.55"/><polygon points="198.60,1140.0 199.38,845.0 200.17,1140.0" fill="#fae525" fill-opacity="0.55"/><polygon points="170.39,1140.0 172.30,901.1 174.20,1140.0" fill="#fae525" fill-opacity="0.55"/><polygon points="174.74,1140.0 176.08,707.4 177.43,1140.0" fill="#fae525" fill-opacity="0.55"/><polygon points="202.74,1140.0 203.82,927.0 204.89,1140.0" fill="#fae525" fill-opacity="0.55"/><polygon points="198.83,1140.0 199.79,812.9 200.74,1140.0" fill="#fae525" fill-opacity="0.55"/><polygon points="171.86,1140.0 172.90,905.7 173.95,1140.0" fill="#fae525" fill-opacity="0.55"/><polygon points="188.08,1140.0 190.05,706.7 192.03,1140.0" fill="#fae525" fill-opacity="0.55"/><polygon points="196.27,1140.0 197.63,800.7 199.00,1140.0" fill="#fae525" fill-opacity="0.55"/><polygon points="180.76,1140.0 181.64,734.4 182.52,1140.0" fill="#fae525" fill-opacity="0.55"/><polygon points="193.29,1140.0 194.38,717.4 195.48,1140.0" fill="#fae525" fill-opacity="0.55"/><polygon points="186.84,1140.0 188.33,695.3 189.82,1140.0" fill="#fae525" fill-opacity="0.55"/><polygon points="173.62,1140.0 174.55,720.6 175.47,1140.0" fill="#fae525" fill-opacity="0.55"/><polygon points="173.85,1140.0 175.24,736.7 176.63,1140.0" fill="#fae525" fill-opacity="0.55"/><polygon points="195.48,1140.0 196.43,787.4 197.39,1140.0" fill="#fae525" fill-opacity="0.55"/><polygon points="204.92,1140.0 206.25,1045.6 207.57,1140.0" fill="#fae525" fill-opacity="0.55"/><polygon points="187.87,1140.0 189.58,725.7 191.29,1140.0" fill="#fae525" fill-opacity="0.55"/><polygon points="177.70,1140.0 178.98,733.7 180.27,1140.0" fill="#fae525" fill-opacity="0.55"/><polygon points="179.20,1140.0 181.04,735.9 182.88,1140.0" fill="#fae525" fill-opacity="0.55"/><polygon points="201.00,1140.0 202.89,889.2 204.78,1140.0" fill="#fae525" fill-opacity="0.55"/><polygon points="198.24,1140.0 199.93,868.8 201.62,1140.0" fill="#fae525" fill-opacity="0.55"/><polygon points="206.31,1140.0 207.99,1101.0 209.68,1140.0" fill="#fae525" fill-opacity="0.55"/><polygon points="198.74,1140.0 200.12,845.9 201.50,1140.0" fill="#fae525" fill-opacity="0.55"/><polygon points="185.19,1140.0 186.41,736.1 187.64,1140.0" fill="#fae525" fill-opacity="0.55"/><polygon points="197.24,1140.0 198.88,823.2 200.51,1140.0" fill="#fae525" fill-opacity="0.55"/><polygon points="181.54,1140.0 183.13,688.7 184.72,1140.0" fill="#fae525" fill-opacity="0.55"/><rect x="178.5" y="727.1" width="1.3" height="272.9" fill="#fae525" fill-opacity="0.5"/><rect x="176.8" y="793.3" width="1.2" height="206.7" fill="#fae525" fill-opacity="0.5"/><rect x="185.5" y="765.3" width="0.7" height="234.7" fill="#fae525" fill-opacity="0.5"/><rect x="176.4" y="770.5" width="1.2" height="229.5" fill="#fae525" fill-opacity="0.5"/><rect x="186.9" y="782.8" width="0.9" height="217.2" fill="#fae525" fill-opacity="0.5"/><rect x="178.7" y="800.3" width="0.7" height="199.7" fill="#fae525" fill-opacity="0.5"/><rect x="184.8" y="758.9" width="1.5" height="241.1" fill="#fae525" fill-opacity="0.5"/><rect x="177.5" y="768.3" width="0.8" height="231.7" fill="#fae525" fill-opacity="0.5"/><polygon points="239.50,1150.0 241.00,1110.0 242.50,1150.0" fill="#fae525" fill-opacity="1.00"/><polygon points="276.70,1150.0 278.00,1132.0 279.30,1150.0" fill="#fae525" fill-opacity="1.00"/><polygon points="322.80,1150.0 324.00,1139.0 325.20,1150.0" fill="#fae525" fill-opacity="1.00"/><polygon points="366.50,1150.0 367.50,1144.4 368.50,1150.0" fill="#fae525" fill-opacity="1.00"/><polygon points="404.00,1150.0 405.00,1146.0 406.00,1150.0" fill="#fae525" fill-opacity="1.00"/><polygon points="470.30,1150.0 471.30,1144.5 472.30,1150.0" fill="#fae525" fill-opacity="1.00"/><polygon points="485.60,1150.0 486.50,1141.0 487.40,1150.0" fill="#fae525" fill-opacity="1.00"/><polygon points="605.25,1150.0 606.00,1150.0 606.75,1150.0" fill="#fae525" fill-opacity="0.80"/><polygon points="867.25,1150.0 868.00,1138.0 868.75,1150.0" fill="#fae525" fill-opacity="0.80"/><polygon points="934.50,1150.0 935.50,1117.5 936.50,1150.0" fill="#fae525" fill-opacity="0.90"/><polygon points="955.50,1150.0 957.00,1110.0 958.50,1150.0" fill="#fae525" fill-opacity="0.90"/><polygon points="958.50,1150.0 960.50,1072.0 962.50,1150.0" fill="#fae525" fill-opacity="0.90"/><polygon points="962.40,1150.0 964.40,1088.0 966.40,1150.0" fill="#fae525" fill-opacity="1.00"/><polygon points="967.25,1150.0 969.50,1067.5 971.75,1150.0" fill="#fae525" fill-opacity="1.00"/><polygon points="971.20,1150.0 973.70,1042.5 976.20,1150.0" fill="#fae525" fill-opacity="1.00"/><polygon points="975.70,1150.0 977.70,1108.0 979.70,1150.0" fill="#fae525" fill-opacity="1.00"/><polygon points="980.50,1150.0 982.00,1112.0 983.50,1150.0" fill="#fae525" fill-opacity="0.80"/><polygon points="955.0,1150.0 955.0,1128.4 955.7,1112.4 956.4,1127.0 957.1,1115.6 957.8,1113.2 958.5,1114.6 959.2,1123.4 959.9,1122.2 960.6,1114.0 961.3,1108.3 962.0,1114.6 962.7,1117.0 963.4,1120.2 964.1,1119.6 964.8,1111.9 965.5,1118.8 966.2,1116.3 966.9,1114.2 967.6,1114.2 968.3,1127.8 969.0,1123.5 969.7,1112.9 970.4,1116.0 971.1,1110.3 971.8,1127.2 972.5,1123.4 973.2,1117.8 973.9,1112.8 974.6,1124.1 975.3,1112.9 976.0,1120.0 976.7,1122.1 977.4,1112.7 978.1,1125.8 978.8,1111.7 979.5,1122.4 980.2,1121.7 980.9,1124.3 981.6,1120.4 982.3,1115.1 983.0,1124.2 983.7,1119.8 984.4,1121.5 985.1,1123.3 985.1,1150.0" fill="#fae525" fill-opacity="0.80"/><polygon points="486.00,1145.0 486.50,1095.0 487.00,1145.0" fill="#fae525" fill-opacity="0.30"/><polygon points="240.35,1154.0 241.00,1125.0 241.65,1154.0" fill="#440154" fill-opacity="0.50"/><polygon points="323.35,1154.0 324.00,1145.0 324.65,1154.0" fill="#440154" fill-opacity="0.50"/><polygon points="483.85,1154.0 484.50,1150.0 485.15,1154.0" fill="#440154" fill-opacity="0.80"/><polygon points="637.35,1154.0 638.00,1139.0 638.65,1154.0" fill="#440154" fill-opacity="0.80"/><polygon points="959.75,1154.0 960.50,1072.0 961.25,1154.0" fill="#440154" fill-opacity="0.70"/><polygon points="671.70,1152.0 672.60,1007.0 673.50,1152.0" fill="url(#pgrad)"/><polygon points="811.30,1152.0 812.20,1045.6 813.10,1152.0" fill="url(#pgrad)"/><polygon points="919.70,1152.0 920.60,1005.8 921.50,1152.0" fill="url(#pgrad)"/><polygon points="176.25,1160.0 176.95,1097.2 177.65,1160.0" fill="#440154" fill-opacity="0.15"/><polygon points="180.99,1160.0 181.69,1062.8 182.39,1160.0" fill="#440154" fill-opacity="0.15"/><polygon points="179.78,1160.0 180.48,1068.9 181.18,1160.0" fill="#440154" fill-opacity="0.15"/><polygon points="175.66,1160.0 176.36,1118.9 177.06,1160.0" fill="#440154" fill-opacity="0.15"/><polygon points="181.01,1160.0 181.71,1064.6 182.41,1160.0" fill="#440154" fill-opacity="0.15"/><polygon points="170.85,1160.0 171.55,1061.9 172.25,1160.0" fill="#440154" fill-opacity="0.15"/><polygon points="180.17,1160.0 180.87,1062.3 181.57,1160.0" fill="#440154" fill-opacity="0.15"/><polygon points="180.22,1160.0 180.92,1108.4 181.62,1160.0" fill="#440154" fill-opacity="0.15"/><polygon points="180.61,1160.0 181.31,1116.2 182.01,1160.0" fill="#440154" fill-opacity="0.15"/><polygon points="178.40,1160.0 179.10,1109.5 179.80,1160.0" fill="#440154" fill-opacity="0.15"/><polygon points="171.5,1160.0 172.5,1140.0 174.0,1136.0 176.0,1132.0 178.0,1140.0 180.0,1130.0 182.0,1136.0 184.0,1128.0 186.0,1124.0 187.0,1140.0 188.5,1125.0 190.0,1123.0 191.0,1135.0 193.0,1145.0 195.0,1140.0 197.0,1145.0 199.0,1143.0 201.0,1145.0 203.0,1150.0 206.0,1157.0 208.0,1160.0" fill="#440154" fill-opacity="0.95"/><polygon points="186.6,1160 187.5,1150 189,1146 191,1150 191.8,1160" fill="#fff" fill-opacity="0.9"/><polygon points="192.6,1160 194,1153 196.5,1151 199,1153 200.4,1160" fill="#fff" fill-opacity="0.9"/><rect x="131.5" y="1159.86" width="894.8" height="2.1" fill="#000"/><rect x="172" y="1215.9" width="813.7" height="0.7" fill="#ff7f0e" fill-opacity="0.3"/><rect x="131.50" y="683.60" width="894.80" height="533.80" fill="none" stroke="#000" stroke-width="1.1"/><line x1="127.2" y1="1175.26" x2="131.5" y2="1175.26" stroke="#000" stroke-width="1.1"/><text transform="translate(124.10,1184.66) scale(1.000,1.040)" font-size="27.75" text-anchor="end">75</text><line x1="127.2" y1="1105.02" x2="131.5" y2="1105.02" stroke="#000" stroke-width="1.1"/><text transform="translate(124.10,1114.42) scale(1.000,1.040)" font-size="27.75" text-anchor="end">100</text><line x1="127.2" y1="1034.78" x2="131.5" y2="1034.78" stroke="#000" stroke-width="1.1"/><text transform="translate(124.10,1044.18) scale(1.000,1.040)" font-size="27.75" text-anchor="end">125</text><line x1="127.2" y1="964.55" x2="131.5" y2="964.55" stroke="#000" stroke-width="1.1"/><text transform="translate(124.10,973.95) scale(1.000,1.040)" font-size="27.75" text-anchor="end">150</text><line x1="127.2" y1="894.31" x2="131.5" y2="894.31" stroke="#000" stroke-width="1.1"/><text transform="translate(124.10,903.71) scale(1.000,1.040)" font-size="27.75" text-anchor="end">175</text><line x1="127.2" y1="824.07" x2="131.5" y2="824.07" stroke="#000" stroke-width="1.1"/><text transform="translate(124.10,833.47) scale(1.000,1.040)" font-size="27.75" text-anchor="end">200</text><line x1="127.2" y1="753.84" x2="131.5" y2="753.84" stroke="#000" stroke-width="1.1"/><text transform="translate(124.10,763.24) scale(1.000,1.040)" font-size="27.75" text-anchor="end">225</text><line x1="127.2" y1="683.60" x2="131.5" y2="683.60" stroke="#000" stroke-width="1.1"/><text transform="translate(124.10,693.00) scale(1.000,1.040)" font-size="27.75" text-anchor="end">250</text><line x1="348.6" y1="1217.40" x2="348.6" y2="1221.70" stroke="#000" stroke-width="1.1"/><line x1="600.4" y1="1217.40" x2="600.4" y2="1221.70" stroke="#000" stroke-width="1.1"/><line x1="851.4" y1="1217.40" x2="851.4" y2="1221.70" stroke="#000" stroke-width="1.1"/><text transform="translate(348.60,1243.70) scale(1.000,1.040)" font-size="27.75" text-anchor="middle">22:48</text><text transform="translate(600.40,1243.70) scale(1.000,1.040)" font-size="27.75" text-anchor="middle">02:24</text><text transform="translate(851.40,1243.70) scale(1.000,1.040)" font-size="27.75" text-anchor="middle">06:00</text><line x1="1026.3" y1="1217.40" x2="1030.6" y2="1217.40" stroke="#000" stroke-width="1.1"/><text transform="translate(1033.60,1221.00) scale(1.000,1.040)" font-size="9.70">0</text><line x1="1026.3" y1="1150.68" x2="1030.6" y2="1150.68" stroke="#000" stroke-width="1.1"/><text transform="translate(1033.60,1154.28) scale(1.000,1.040)" font-size="9.70">50</text><line x1="1026.3" y1="1083.95" x2="1030.6" y2="1083.95" stroke="#000" stroke-width="1.1"/><text transform="translate(1033.60,1087.55) scale(1.000,1.040)" font-size="9.70">100</text><line x1="1026.3" y1="1017.23" x2="1030.6" y2="1017.23" stroke="#000" stroke-width="1.1"/><text transform="translate(1033.60,1020.83) scale(1.000,1.040)" font-size="9.70">150</text><line x1="1026.3" y1="950.50" x2="1030.6" y2="950.50" stroke="#000" stroke-width="1.1"/><text transform="translate(1033.60,954.10) scale(1.000,1.040)" font-size="9.70">200</text><line x1="1026.3" y1="883.78" x2="1030.6" y2="883.78" stroke="#000" stroke-width="1.1"/><text transform="translate(1033.60,887.38) scale(1.000,1.040)" font-size="9.70">250</text><line x1="1026.3" y1="817.05" x2="1030.6" y2="817.05" stroke="#000" stroke-width="1.1"/><text transform="translate(1033.60,820.65) scale(1.000,1.040)" font-size="9.70">300</text><line x1="1026.3" y1="750.33" x2="1030.6" y2="750.33" stroke="#000" stroke-width="1.1"/><text transform="translate(1033.60,753.93) scale(1.000,1.040)" font-size="9.70">350</text><line x1="1026.3" y1="683.60" x2="1030.6" y2="683.60" stroke="#000" stroke-width="1.1"/><text transform="translate(1033.60,687.20) scale(1.000,1.040)" font-size="9.70">400</text><g transform="translate(0,588.55) rotate(-90)"><text transform="translate(-426.40,45.80) scale(1.020,1.000)" font-size="23.00" font-style="italic">dN/dt</text><rect x="-425.7" y="52.9" width="52.8" height="2.1" fill="#000"/><g transform="translate(-407.1,58.6)"><circle cx="11.2" cy="2.5" r="1.35" fill="#000"/><path d="M 12.2 1.6 C 11.6 0.4 9.8 0.3 8.8 1.2" stroke="#000" stroke-width="0.8" fill="none"/><polygon points="8.6,0.9 10.0,1.5 6.6,6.8 2.0,13.6 0.4,14.8 3.6,8.6" fill="#000"/><polygon points="0.2,14.4 3.0,12.8 8.0,13.3 12.4,13.5 14.5,12.0 13.8,13.9 10.5,15.0 4.5,15.0 0.6,15.5" fill="#000"/></g><text transform="translate(-361.75,59.70) scale(1.000,0.930)" font-size="33.00">(mb)</text></g><rect x="1082.50" y="683.60" width="27.00" height="533.80" fill="url(#vir)" stroke="#000" stroke-width="1.1"/><line x1="1109.5" y1="1217.40" x2="1113.5" y2="1217.40" stroke="#000" stroke-width="1.1"/><text transform="translate(1116.25,1226.80) scale(1.000,1.040)" font-size="27.75">0.0</text><line x1="1109.5" y1="1110.64" x2="1113.5" y2="1110.64" stroke="#000" stroke-width="1.1"/><text transform="translate(1116.25,1120.04) scale(1.000,1.040)" font-size="27.75">0.2</text><line x1="1109.5" y1="1003.88" x2="1113.5" y2="1003.88" stroke="#000" stroke-width="1.1"/><text transform="translate(1116.25,1013.28) scale(1.000,1.040)" font-size="27.75">0.4</text><line x1="1109.5" y1="897.12" x2="1113.5" y2="897.12" stroke="#000" stroke-width="1.1"/><text transform="translate(1116.25,906.52) scale(1.000,1.040)" font-size="27.75">0.6</text><line x1="1109.5" y1="790.36" x2="1113.5" y2="790.36" stroke="#000" stroke-width="1.1"/><text transform="translate(1116.25,799.76) scale(1.000,1.040)" font-size="27.75">0.8</text><line x1="1109.5" y1="683.60" x2="1113.5" y2="683.60" stroke="#000" stroke-width="1.1"/><text transform="translate(1116.25,693.00) scale(1.000,1.040)" font-size="27.75">1.0</text><g transform="translate(1178.3,1067.55) rotate(-90)"><text transform="translate(-1.28,0.00) scale(1.000,1.000)" font-size="33.30">collides in LHCB</text></g><rect x="877" y="691.7" width="142" height="33" rx="2.5" fill="#fff" stroke="#bbb" stroke-width="1"/><rect x="881.9" y="705.4" width="36.1" height="2.6" fill="#000"/><text transform="translate(931,711.7)" font-size="18" font-style="italic">&#963;</text><text transform="translate(940,714.1)" font-size="12" font-style="italic">inel</text><text transform="translate(955,711.7)" font-size="18">=80 mb</text><rect x="754.5" y="689.9" width="266.1" height="41.1" rx="2.5" fill="#fff" fill-opacity="0.8" stroke="#d3d3d3" stroke-width="1"/><line x1="759.3" y1="699.6" x2="786.7" y2="699.6" stroke="#62a0d2" stroke-width="1.1"/><line x1="759.3" y1="718.4" x2="786.7" y2="718.4" stroke="#ffa556" stroke-width="1.1"/><text transform="translate(797.2,705.25) scale(1,1.03)" font-size="13.35">RPMC.UL16.RBBCW.R1B2:I_MEAS</text><text transform="translate(797.2,723.10) scale(1,1.03)" font-size="13.35">RPMC.UL557.RBBCW.R5B2:I_MEAS</text></svg></body></html>
